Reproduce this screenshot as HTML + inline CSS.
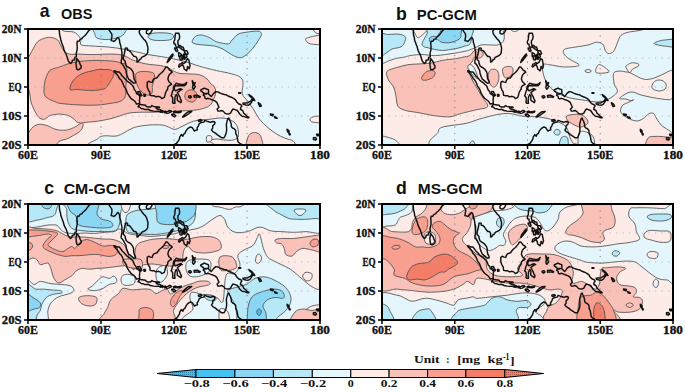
<!DOCTYPE html>
<html><head><meta charset="utf-8"><style>
html,body{margin:0;padding:0;background:#fff;}
svg{display:block;}
.tk{font-family:"Liberation Serif",serif;font-weight:bold;font-size:12.6px;fill:#111;stroke:#111;stroke-width:0.35px;}
.cb{font-family:"Liberation Serif",serif;font-weight:bold;font-size:10.6px;fill:#111;}
.unit{font-family:"Liberation Serif",serif;font-weight:bold;font-size:11.4px;fill:#111;}
.tl{font-family:"Liberation Sans",sans-serif;font-weight:bold;font-size:17.7px;fill:#111;}
.tt{font-family:"Liberation Sans",sans-serif;font-weight:bold;font-size:14.3px;fill:#111;}
</style></head><body>
<svg width="685" height="392" viewBox="0 0 685 392">
<defs>
<pattern id="stip" width="2" height="2" patternUnits="userSpaceOnUse"><rect width="2" height="2" fill="#EC806C"/><rect width="1" height="1" fill="#B8584A"/></pattern>
<pattern id="stipb" width="2" height="2" patternUnits="userSpaceOnUse"><rect width="2" height="2" fill="#3CC0F2"/><rect width="1" height="1" fill="#2A88B0"/></pattern>
</defs>
<rect width="685" height="392" fill="#fff"/>
<g transform="translate(28,29)">
<clipPath id="cpa"><rect x="0" y="0" width="292" height="116"/></clipPath>
<g clip-path="url(#cpa)">
<rect x="0" y="0" width="292" height="116" fill="#FDEBE8"/>
<path d="M32.9,-3.0 C-10.8,-2.5 32.2,-0.9 32.9,0.0 C33.5,0.9 34.6,1.8 36.8,2.3 C39.0,2.8 43.5,2.2 45.9,3.1 C48.3,4.0 50.1,6.3 51.3,7.7 C52.4,9.1 52.5,10.1 52.8,11.5 C53.1,12.9 51.4,15.1 53.3,16.0 C55.2,16.9 59.4,16.6 64.0,17.0 C68.6,17.4 75.7,17.6 81.0,18.1 C86.3,18.6 90.9,19.3 95.9,20.2 C100.9,21.1 106.9,22.5 110.8,23.4 C114.7,24.3 115.8,24.8 119.5,25.5 C123.2,26.2 129.0,26.9 133.3,27.6 C137.6,28.3 141.2,29.0 145.5,29.9 C149.8,30.8 154.5,31.8 158.8,33.0 C163.2,34.2 166.6,35.9 171.6,37.3 C176.6,38.7 183.3,40.4 188.6,41.6 C193.9,42.9 199.6,43.7 203.5,44.8 C207.4,45.9 210.1,46.6 212.0,48.0 C213.9,49.4 214.6,50.3 215.0,53.0 C215.4,55.7 213.6,61.4 214.2,64.4 C214.8,67.4 216.7,68.3 218.5,70.8 C220.3,73.3 222.8,76.1 224.9,79.3 C227.0,82.5 228.8,86.8 231.3,90.0 C233.8,93.2 237.0,96.0 239.8,98.5 C242.6,101.0 245.5,103.1 248.3,104.9 C251.1,106.7 254.0,107.9 256.8,109.1 C259.6,110.3 262.9,110.6 265.4,112.3 C267.9,114.0 266.8,117.9 271.7,119.0 C276.6,120.1 291.1,139.3 295.0,119.0 C298.9,98.7 338.7,17.3 295.0,-3.0 C251.3,-23.3 76.6,-3.5 32.9,-3.0 Z" fill="#E4F6FC" stroke="#4e4e4e" stroke-width="0.85"/>
<path d="M66.4,119.0 C48.5,117.4 68.6,111.4 70.3,109.4 C72.0,107.4 73.4,107.2 76.6,106.8 C79.8,106.4 85.2,107.9 89.4,106.8 C93.6,105.7 98.8,101.9 102.0,100.4 C105.2,98.9 105.2,98.6 108.4,97.9 C111.6,97.2 116.8,96.3 121.1,96.0 C125.3,95.7 130.7,95.7 133.9,96.0 C137.1,96.3 138.2,97.2 140.3,97.9 C142.4,98.6 144.5,100.4 146.6,100.4 C148.7,100.4 150.9,98.9 153.0,97.9 C155.1,97.0 157.3,95.7 159.4,94.7 C161.5,93.7 163.5,92.7 165.8,92.1 C168.1,91.5 170.7,91.2 173.4,90.9 C176.1,90.6 178.9,90.5 182.0,90.2 C185.1,89.9 189.0,89.0 192.0,89.0 C195.0,89.0 197.5,89.2 200.0,90.0 C202.5,90.8 205.3,92.3 207.0,94.0 C208.7,95.7 209.5,97.7 210.0,100.0 C210.5,102.3 210.8,106.2 210.0,108.0 C209.2,109.8 207.3,110.5 205.0,111.0 C202.7,111.5 198.8,111.2 196.0,111.0 C193.2,110.8 190.3,109.8 188.0,110.0 C185.7,110.2 183.7,110.5 182.0,112.0 C180.3,113.5 197.3,117.8 178.0,119.0 C158.7,120.2 84.4,120.6 66.4,119.0 Z" fill="#E4F6FC" stroke="#4e4e4e" stroke-width="0.85"/>
<path d="M178.5,108.0 C178.8,106.9 180.1,106.5 181.0,106.5 C181.9,106.5 183.7,107.1 184.0,108.0 C184.3,108.9 183.8,111.2 183.0,112.0 C182.2,112.8 179.8,113.7 179.0,113.0 C178.2,112.3 178.2,109.1 178.5,108.0 Z" fill="#FDEBE8" stroke="#4e4e4e" stroke-width="0.85"/>
<path d="M-3.0,30.0 C-2.5,25.7 -1.2,30.4 0.0,29.0 C1.2,27.6 2.7,24.0 4.3,21.3 C5.9,18.6 7.5,14.9 9.6,12.8 C11.7,10.8 14.7,9.7 17.0,9.0 C19.3,8.3 21.3,8.2 23.4,8.5 C25.5,8.8 28.2,9.7 29.8,11.1 C31.4,12.5 31.9,15.1 33.0,17.0 C34.1,18.9 34.8,21.0 36.2,22.4 C37.6,23.8 39.1,24.7 41.6,25.1 C44.1,25.6 47.3,25.0 51.0,25.1 C54.7,25.2 58.3,25.6 64.0,25.6 C69.7,25.6 79.7,24.9 85.0,25.1 C90.3,25.3 92.7,25.6 96.0,26.6 C99.3,27.6 101.2,29.6 104.8,31.0 C108.4,32.4 112.2,33.7 117.5,34.8 C122.8,35.9 131.3,35.9 136.6,37.4 C141.9,38.9 145.7,42.6 149.4,43.8 C153.1,45.0 155.1,44.5 158.8,44.8 C162.5,45.1 168.2,44.9 171.6,45.8 C175.0,46.7 177.1,48.5 179.0,50.0 C180.9,51.5 181.8,53.7 183.0,55.0 C184.2,56.3 185.7,56.4 186.5,58.0 C187.3,59.6 187.8,62.3 187.6,64.4 C187.4,66.5 186.3,68.8 185.4,70.8 C184.5,72.8 183.8,74.7 182.2,76.1 C180.6,77.5 178.5,78.4 175.8,79.3 C173.1,80.2 169.6,80.9 165.8,81.3 C162.0,81.7 157.2,81.7 153.0,81.9 C148.8,82.1 144.6,82.4 140.3,82.6 C136.1,82.8 131.8,83.1 127.5,83.2 C123.2,83.3 119.0,83.1 114.8,83.2 C110.6,83.3 105.8,83.4 102.2,83.9 C98.6,84.4 96.4,85.5 93.2,86.4 C90.0,87.4 86.8,88.6 83.0,89.6 C79.2,90.5 74.5,91.5 70.3,92.1 C66.0,92.7 60.5,93.1 57.5,93.4 C54.5,93.7 53.9,94.2 52.4,94.1 C50.9,94.0 49.9,93.6 48.6,92.8 C47.3,92.0 46.3,90.1 44.8,89.0 C43.3,87.9 41.8,87.1 39.7,86.4 C37.6,85.8 34.9,85.1 32.0,85.1 C29.1,85.1 24.7,85.7 22.3,86.4 C19.9,87.2 19.3,89.0 17.9,89.6 C16.5,90.2 15.3,90.5 14.0,90.2 C12.7,89.9 11.5,89.2 10.2,87.7 C8.9,86.2 7.6,83.6 6.4,81.3 C5.2,79.0 4.0,76.2 3.2,73.7 C2.5,71.2 2.4,68.6 1.9,66.0 C1.4,63.4 0.8,59.8 0.0,58.0 C-0.8,56.2 -2.5,59.7 -3.0,55.0 C-3.5,50.3 -3.5,34.3 -3.0,30.0 Z" fill="#F9C1B8" stroke="#4e4e4e" stroke-width="0.85"/>
<path d="M-3.0,104.0 C-2.5,101.5 -1.3,105.3 0.0,104.3 C1.3,103.3 3.2,99.4 5.1,97.9 C7.0,96.4 9.2,95.5 11.5,95.3 C13.8,95.1 16.4,95.8 19.1,96.6 C21.9,97.4 24.8,99.7 28.0,100.4 C31.2,101.2 35.1,101.5 38.3,101.1 C41.5,100.7 44.9,99.0 47.2,97.9 C49.6,96.8 51.1,95.0 52.4,94.5 C53.7,94.0 54.7,93.9 55.0,94.7 C55.3,95.5 54.9,97.8 54.3,99.2 C53.6,100.6 52.7,101.7 51.1,103.0 C49.5,104.3 46.9,105.6 44.8,106.8 C42.7,108.0 40.5,109.2 38.4,110.0 C36.3,110.8 33.7,110.9 32.0,111.9 C30.3,112.9 28.7,114.8 28.0,116.0 C27.3,117.2 33.2,118.5 28.0,119.0 C22.8,119.5 2.2,121.5 -3.0,119.0 C-8.2,116.5 -3.5,106.5 -3.0,104.0 Z" fill="#F9C1B8" stroke="#4e4e4e" stroke-width="0.85"/>
<path d="M16.0,60.0 C16.1,57.7 16.3,54.7 17.0,52.0 C17.7,49.3 19.0,45.9 20.0,44.0 C21.0,42.1 21.2,41.6 23.0,40.6 C24.8,39.6 27.6,39.3 30.6,38.3 C33.6,37.3 37.5,35.5 41.3,34.5 C45.1,33.5 49.0,32.7 53.6,32.2 C58.2,31.7 63.5,31.4 68.9,31.4 C74.3,31.4 81.5,31.7 85.8,32.2 C90.1,32.7 93.0,34.1 94.9,34.5 C96.8,34.9 96.4,33.7 97.1,34.8 C97.8,35.9 98.8,38.7 99.0,41.2 C99.2,43.8 98.6,46.9 98.4,50.1 C98.2,53.3 97.9,57.3 97.7,60.3 C97.5,63.3 98.0,66.0 97.1,68.0 C96.1,70.0 94.3,71.4 92.0,72.4 C89.7,73.5 86.6,73.7 83.0,74.3 C79.4,74.9 74.5,75.7 70.3,76.0 C66.0,76.3 61.8,76.3 57.5,76.2 C53.2,76.1 49.0,75.9 44.8,75.6 C40.5,75.3 34.8,74.7 32.0,74.3 C29.2,73.9 29.9,73.8 28.0,73.0 C26.1,72.2 22.3,71.0 20.4,69.8 C18.5,68.6 17.3,67.6 16.6,66.0 C15.9,64.4 15.9,62.3 16.0,60.0 Z" fill="#F89F8F" stroke="#4e4e4e" stroke-width="0.85"/>
<path d="M107.9,45.0 C108.6,43.5 110.4,43.1 112.4,42.7 C114.4,42.3 117.8,42.4 120.0,42.7 C122.2,43.0 124.7,43.2 125.8,44.4 C126.9,45.6 126.6,48.1 126.4,50.1 C126.2,52.1 124.9,54.1 124.5,56.5 C124.1,58.9 124.8,62.6 123.9,64.2 C123.1,65.8 121.1,66.3 119.4,66.1 C117.7,65.9 115.3,64.3 113.7,62.9 C112.1,61.5 110.9,59.7 109.9,57.8 C109.0,55.9 108.3,53.5 108.0,51.4 C107.7,49.3 107.2,46.5 107.9,45.0 Z" fill="#F89F8F" stroke="#4e4e4e" stroke-width="0.85"/>
<path d="M157.0,65.4 C157.4,64.1 158.3,62.3 159.6,61.6 C160.9,60.9 163.2,60.6 164.7,61.0 C166.2,61.4 167.9,62.8 168.5,64.2 C169.1,65.6 169.1,67.8 168.5,69.3 C167.9,70.8 166.2,72.7 164.7,73.1 C163.2,73.5 160.8,72.4 159.6,71.8 C158.4,71.2 157.7,70.4 157.3,69.3 C156.9,68.2 156.6,66.7 157.0,65.4 Z" fill="#F89F8F" stroke="#4e4e4e" stroke-width="0.85"/>
<path d="M42.0,60.5 C41.2,59.2 43.1,55.0 44.4,52.8 C45.7,50.5 48.0,48.5 50.0,47.0 C52.0,45.5 54.4,44.4 56.7,43.6 C59.0,42.8 62.0,42.5 64.0,42.0 C66.0,41.5 67.1,40.9 68.9,40.6 C70.7,40.4 72.7,40.4 75.0,40.5 C77.3,40.6 80.9,40.4 82.7,41.0 C84.5,41.6 85.4,43.2 85.8,44.4 C86.2,45.6 85.4,47.0 85.0,48.0 C84.6,49.0 84.3,49.2 83.5,50.5 C82.7,51.8 81.2,54.4 80.0,56.0 C78.8,57.6 78.7,59.1 76.0,60.0 C73.3,60.9 68.5,61.4 64.0,61.5 C59.5,61.6 52.7,60.7 49.0,60.5 C45.3,60.3 42.8,61.8 42.0,60.5 Z" fill="#F37D67" stroke="#4e4e4e" stroke-width="0.85"/>
<path d="M67.0,-3.0 C61.8,-1.6 66.7,3.4 67.0,5.4 C67.3,7.4 67.6,8.1 68.8,8.9 C70.0,9.7 72.2,10.0 74.1,10.3 C76.0,10.6 78.6,10.6 80.4,10.5 C82.2,10.4 83.3,10.1 84.9,9.8 C86.5,9.5 88.6,9.1 90.2,8.5 C91.8,7.9 93.5,7.3 94.7,6.3 C95.9,5.3 96.8,4.2 97.4,2.7 C98.0,1.2 103.4,-2.0 98.3,-3.0 C93.2,-4.0 72.2,-4.4 67.0,-3.0 Z" fill="#B6E8F8" stroke="#4e4e4e" stroke-width="0.85"/>
<path d="M120.0,8.0 C119.8,6.9 121.8,5.2 124.0,4.5 C126.2,3.8 130.0,3.8 133.0,3.8 C136.0,3.8 139.9,4.0 142.0,4.5 C144.1,5.0 145.3,6.0 145.5,7.0 C145.7,8.0 144.8,9.8 143.0,10.5 C141.2,11.2 138.0,11.4 135.0,11.5 C132.0,11.6 127.5,11.6 125.0,11.0 C122.5,10.4 120.2,9.1 120.0,8.0 Z" fill="#B6E8F8" stroke="#4e4e4e" stroke-width="0.85"/>
<path d="M164.1,12.8 C164.1,11.6 165.7,8.6 167.3,7.5 C168.9,6.4 171.4,5.8 173.7,6.0 C176.0,6.2 178.7,7.4 181.2,8.5 C183.7,9.6 185.4,11.7 188.6,12.8 C191.8,13.9 197.8,15.1 200.3,14.9 C202.8,14.7 201.9,13.3 203.5,11.7 C205.1,10.1 207.5,6.7 210.0,5.3 C212.5,3.9 215.1,3.7 218.5,3.2 C221.9,2.7 227.7,1.8 230.2,2.1 C232.7,2.5 233.4,3.7 233.4,5.3 C233.4,6.9 231.6,9.4 230.2,11.7 C228.8,14.0 226.8,16.9 224.9,19.2 C223.0,21.5 220.7,24.0 218.5,25.6 C216.3,27.2 214.5,28.8 212.0,28.8 C209.5,28.8 206.3,27.0 203.5,25.6 C200.7,24.2 197.8,21.6 195.0,20.2 C192.2,18.8 189.7,17.7 186.5,17.0 C183.3,16.3 179.0,16.4 175.8,16.0 C172.6,15.7 169.2,15.4 167.3,14.9 C165.4,14.4 164.1,14.0 164.1,12.8 Z" fill="#B6E8F8" stroke="#4e4e4e" stroke-width="0.85"/>
<path d="M285.5,-3.0 C284.0,-2.2 285.4,0.8 286.0,2.0 C286.6,3.2 287.5,3.9 289.0,4.3 C290.5,4.7 294.0,5.5 295.0,4.3 C296.0,3.1 296.6,-1.8 295.0,-3.0 C293.4,-4.2 287.0,-3.8 285.5,-3.0 Z" fill="#FDEBE8" stroke="#4e4e4e" stroke-width="0.85"/>
<path d="M278.1,9.6 C279.2,8.9 281.7,8.0 284.5,7.5 C287.3,7.0 293.2,5.2 295.0,6.4 C296.8,7.6 297.1,13.5 295.0,14.9 C292.9,16.3 285.2,15.4 282.4,14.9 C279.6,14.4 278.8,12.6 278.1,11.7 C277.4,10.8 277.0,10.3 278.1,9.6 Z" fill="#FDEBE8" stroke="#4e4e4e" stroke-width="0.85"/>
<path d="M219.0,119.0 C216.7,117.2 219.2,110.5 220.0,108.0 C220.8,105.5 222.5,104.7 224.0,104.0 C225.5,103.3 227.5,103.3 229.0,104.0 C230.5,104.7 232.2,105.5 233.0,108.0 C233.8,110.5 236.3,117.2 234.0,119.0 C231.7,120.8 221.3,120.8 219.0,119.0 Z" fill="#F9C1B8" stroke="#4e4e4e" stroke-width="0.85"/>
<path d="M282.0,90.5 C282.0,89.6 282.8,88.3 285.0,87.8 C287.2,87.3 293.3,86.6 295.0,87.5 C296.7,88.4 296.7,92.2 295.0,93.2 C293.3,94.2 287.2,93.7 285.0,93.2 C282.8,92.8 282.0,91.4 282.0,90.5 Z" fill="#FDEBE8" stroke="#4e4e4e" stroke-width="0.85"/>
<path d="M73.0,0V116 M146.0,0V116 M219.0,0V116" stroke="#7a7a7a" stroke-width="1" stroke-dasharray="1.2 5.3" fill="none"/>
<path d="M0,29.0H292 M0,58.0H292 M0,87.0H292" stroke="#b0b0b0" stroke-width="0.9" stroke-dasharray="1.2 5.3" fill="none"/>
<g fill="none" stroke="#111" stroke-width="1.45" stroke-linejoin="round">
<polyline points="31.1,0.0 31.4,2.9 31.6,5.8 32.4,8.7 32.9,11.6 33.6,13.6 34.3,15.4 35.3,18.0 36.0,20.9 37.0,23.2 38.0,24.9 38.7,26.7 39.4,29.0 40.1,31.3 41.1,33.1 42.6,34.5 44.0,33.1 44.3,31.3 46.2,31.0 47.0,28.1 48.4,28.1 48.2,24.6 49.2,20.3 49.2,17.4 48.9,14.5 49.4,12.2 51.1,12.2 52.1,10.4 54.3,9.6 54.3,8.7 56.5,7.0 58.4,4.9 60.3,2.3 62.0,0.6 64.0,0.0 64.5,-0.9"/>
<polyline points="79.8,-0.9 81.3,1.4 82.5,3.2 83.7,4.9 84.0,7.2 83.5,9.9 83.2,11.6 84.7,11.9 85.9,12.5 87.1,11.6 88.3,10.2 89.8,8.4 90.8,9.3 91.5,11.0 91.7,13.6 92.7,16.5 93.2,19.7 93.9,22.6 93.9,26.1 93.9,29.0 93.2,31.9 93.2,34.2 94.2,34.8 95.6,36.8 96.6,38.9 98.1,41.5 98.3,44.1 99.0,46.4 100.0,48.7 100.7,50.2 102.7,51.6 104.6,53.4 105.8,54.2 107.6,53.9 107.3,52.2 106.1,49.9 105.6,47.0 105.6,45.0 104.9,42.6 103.2,40.3 101.5,38.9 99.8,38.0 98.3,36.8 97.6,34.8 97.1,32.2 95.4,30.2 95.4,28.1 96.1,25.8 96.6,23.5 97.1,21.2 97.3,19.1 98.5,18.9 99.5,19.4 99.5,21.2 101.2,21.5 102.4,22.6 103.7,24.4 104.6,25.8 105.8,27.3 108.0,27.8 109.0,29.3 109.0,33.1 110.0,32.8 111.2,31.0 112.7,30.2 113.6,28.4 114.6,27.8 116.6,27.0 117.5,26.4 119.0,24.9 119.7,23.5 119.7,21.8 120.0,19.4 119.7,17.7 119.0,15.1 118.3,13.3 117.3,11.6 115.8,10.2 114.6,8.7 113.4,7.2 112.4,5.8 111.4,4.1 111.2,2.6 111.7,1.2 112.9,0.0 113.4,-0.9"/>
<polyline points="120.7,-0.9 121.4,-0.7 122.4,-0.9"/>
<polyline points="143.1,116.9 145.8,115.7 148.4,114.5 150.1,112.2 151.4,110.2 151.8,107.9 153.3,105.6 154.8,107.3 155.5,105.3 156.9,104.4 157.7,102.4 159.1,100.3 160.8,98.9 162.5,98.0 164.2,98.6 165.7,100.9 166.4,102.1 167.9,101.2 169.4,100.9 169.1,98.9 170.6,96.6 171.1,94.8 172.3,94.0 174.0,93.4 175.9,93.1 176.7,91.3 178.8,92.2 180.8,92.8 182.5,93.4 184.7,92.5 186.4,92.8 187.1,93.7 186.2,95.7 184.7,96.6 184.7,99.2 183.5,100.9 184.9,102.7 187.4,104.1 189.1,105.6 191.7,107.3 193.7,108.8 195.9,108.8 196.9,107.3 198.1,104.4 198.6,101.5 198.6,98.6 198.3,95.7 198.8,93.4 199.3,91.6 200.0,89.6 200.8,89.0 201.5,90.8 202.5,92.8 203.2,95.1 203.4,97.7 204.9,99.2 205.9,99.5 207.6,101.2 207.8,104.4 209.0,107.0 209.5,109.9 210.0,112.8 211.7,114.3 213.6,115.4 215.3,116.9"/>
<polyline points="252.8,116.9 253.3,116.3 254.3,116.9"/>
<polygon points="48.4,29.6 49.4,30.2 50.9,32.2 51.6,33.4 52.1,35.4 53.3,37.1 53.0,38.9 51.8,40.0 50.1,40.9 48.9,40.3 48.4,38.3 48.2,36.0 47.9,34.2 48.4,32.2"/>
<polygon points="118.3,2.6 118.5,4.3 120.5,5.2 121.7,4.6 122.9,3.5 124.1,1.2 123.4,-0.3 121.7,-0.3 120.5,0.3 119.0,1.2"/>
<polygon points="85.9,41.8 87.4,42.0 88.8,42.9 91.2,42.9 93.2,45.5 94.2,47.0 96.1,48.7 97.6,50.5 98.8,51.9 100.5,53.1 102.2,54.2 103.7,55.7 104.9,56.8 105.8,58.9 106.6,60.9 108.0,62.6 108.5,64.7 109.7,65.0 111.2,66.4 111.9,67.6 111.7,69.6 111.4,71.3 111.7,74.8 110.0,74.8 108.5,75.1 107.1,72.5 105.6,71.3 102.9,69.3 101.0,66.7 99.5,64.4 98.3,60.9 97.3,59.2 95.9,57.1 94.9,54.5 94.2,52.8 93.0,50.8 91.5,49.6 90.5,47.6 89.1,45.8 87.6,44.1 86.4,42.9"/>
<polygon points="109.7,62.6 111.7,62.4 112.7,64.4 113.9,66.4 112.7,67.0 111.4,65.5 110.0,64.1"/>
<polygon points="115.8,65.5 117.3,65.5 117.5,67.0 116.1,67.3"/>
<polygon points="110.0,77.7 111.7,75.4 113.9,75.7 115.8,76.0 117.5,76.3 118.3,77.4 120.2,78.0 122.6,78.0 123.9,76.6 125.3,77.4 128.0,78.0 128.5,79.5 130.2,80.3 132.4,80.6 132.9,81.8 132.6,83.2 130.4,82.1 128.2,82.4 125.6,82.1 122.4,81.5 120.2,80.3 117.3,80.6 115.3,79.8 113.2,79.5 111.4,78.0"/>
<polygon points="128.2,78.0 131.2,78.0 131.6,78.6 128.5,78.9"/>
<polygon points="132.6,81.5 134.3,81.5 135.5,82.4 134.3,83.5 132.9,82.4"/>
<polygon points="136.3,82.4 137.5,82.1 138.0,83.5 136.5,83.8"/>
<polygon points="138.2,82.9 139.9,82.4 141.1,81.5 142.8,81.8 143.6,82.7 142.6,83.2 140.6,84.1 138.7,84.4"/>
<polygon points="145.5,82.7 147.2,82.1 149.4,82.9 151.8,82.4 153.3,82.1 152.8,83.2 150.4,83.8 147.7,83.5 145.8,83.5"/>
<polygon points="143.6,85.3 145.8,85.0 147.9,86.7 146.5,87.9 144.1,86.4"/>
<polygon points="154.5,87.9 156.7,85.5 158.4,84.1 160.6,82.7 163.8,82.4 162.5,83.5 160.4,85.0 157.9,86.7 155.7,87.9"/>
<polygon points="119.2,53.4 120.7,52.2 122.4,53.1 124.1,53.4 124.8,51.3 126.3,49.6 129.0,48.7 131.2,45.8 132.4,44.7 133.8,43.5 134.8,42.6 136.3,40.6 138.0,38.0 139.2,38.0 140.4,39.4 141.4,40.9 143.3,42.0 144.3,43.2 142.6,44.4 141.4,45.5 140.4,47.6 139.9,49.9 140.9,52.8 143.3,54.8 143.6,55.4 141.4,56.5 139.9,58.0 139.7,60.0 138.5,61.8 137.5,63.8 137.0,66.1 136.3,68.4 133.8,69.6 132.6,68.2 130.4,67.3 128.0,67.9 125.8,66.7 124.1,66.7 122.2,66.4 121.7,63.2 120.2,60.6 119.2,58.0 119.2,55.4"/>
<polygon points="158.7,53.4 157.2,54.8 155.7,55.4 154.0,55.4 152.1,55.1 149.7,54.8 148.2,54.2 147.2,55.7 146.2,56.5 145.5,58.0 145.3,59.7 145.5,60.6 144.5,62.4 143.6,65.8 143.1,66.7 144.5,68.2 144.8,71.0 144.5,73.1 145.0,74.2 147.0,74.2 146.7,71.6 147.0,68.2 148.2,65.5 149.4,67.3 149.2,71.0 150.6,72.2 152.8,73.7 153.5,71.9 152.3,69.6 151.6,67.6 150.6,65.8 149.4,63.5 150.9,62.4 152.8,60.9 154.3,60.6 152.3,59.7 149.9,60.6 148.4,61.5 147.5,61.8 146.5,60.6 146.2,59.2 147.0,56.8 148.4,56.8 150.9,56.5 153.3,56.8 155.7,56.8 156.9,56.5 158.2,55.1"/>
<polygon points="164.2,51.6 165.5,53.6 165.2,55.1 167.2,53.6 166.0,56.5 167.4,57.4 166.2,59.5 165.5,60.3 164.5,58.9 165.0,55.7"/>
<polygon points="166.0,66.4 169.1,66.1 172.3,67.6 171.6,68.4 168.6,67.9 166.2,68.2"/>
<polygon points="160.6,67.3 162.5,66.7 163.5,68.2 162.1,69.0 160.8,68.4"/>
<polygon points="172.8,60.9 174.7,60.0 176.4,59.2 178.4,60.0 180.3,60.6 180.6,62.4 180.3,64.7 181.5,65.8 183.2,67.6 184.2,66.4 185.7,64.4 187.9,62.6 189.8,62.9 192.2,64.1 194.7,65.0 196.4,65.5 198.3,65.8 200.8,67.3 203.2,68.2 205.6,69.3 207.6,70.8 208.8,73.1 210.5,74.8 212.9,75.7 213.9,77.1 212.9,78.3 212.4,80.3 214.6,81.5 215.6,84.1 217.3,85.5 218.8,87.0 220.5,88.2 220.9,88.7 219.0,88.7 216.6,87.6 214.1,87.3 211.9,85.3 210.7,83.5 209.3,81.5 207.1,80.6 205.1,80.0 203.7,81.8 202.5,84.1 201.0,85.0 198.3,84.7 197.1,84.4 195.4,82.4 193.4,81.5 191.5,82.1 190.0,82.1 189.1,80.0 191.0,78.3 190.0,76.0 188.8,73.4 186.9,71.9 184.0,70.8 181.8,69.9 179.6,69.3 178.4,69.9 177.1,69.3 176.7,67.3 175.2,66.1 175.9,64.7 178.1,65.0 179.3,64.4 175.7,64.1 174.0,62.6 172.8,61.8"/>
<polygon points="214.9,74.2 216.6,74.0 219.5,74.0 221.2,72.8 222.7,72.2 223.9,70.5 224.8,71.0 223.4,73.4 222.2,75.1 220.0,76.3 217.8,76.0 215.3,75.4"/>
<polygon points="220.9,65.5 223.9,67.6 226.1,70.2 226.8,71.6 225.8,71.3 223.9,69.0 221.4,66.7"/>
<polygon points="210.7,63.7 212.7,63.7 212.7,64.2 210.7,64.2"/>
<polygon points="230.2,73.7 232.4,75.1 233.4,77.1 231.9,77.7 230.7,75.4"/>
<polygon points="242.4,85.0 245.3,85.5 244.8,86.7 242.6,86.1"/>
<polygon points="246.3,87.6 248.4,88.5 249.2,89.3 247.2,89.0"/>
<polygon points="259.1,100.3 260.9,101.5 261.1,103.2 259.9,103.2 259.4,102.1"/>
<polygon points="260.9,104.1 262.3,105.0 261.8,106.1 261.1,105.3"/>
<polygon points="285.4,108.8 287.6,108.5 288.6,110.2 287.4,111.1 285.4,110.5"/>
<polygon points="288.6,105.3 290.8,105.3 292.5,105.0 292.5,106.7 290.3,106.7 289.1,106.7"/>
<polygon points="147.5,4.3 148.9,4.1 150.9,4.3 151.6,7.2 151.4,9.9 149.9,11.9 149.9,14.5 150.6,16.8 152.3,16.5 153.5,18.0 155.0,18.0 156.0,20.3 155.7,21.5 154.0,20.3 152.3,19.1 150.4,17.7 148.7,18.6 147.5,16.5 147.5,15.1 146.0,14.8 145.8,12.5 146.7,11.0 147.0,7.8"/>
<polygon points="146.7,18.9 148.7,19.1 149.7,21.5 148.9,22.6 147.7,21.8"/>
<polygon points="150.6,23.5 152.1,24.4 153.5,25.5 152.3,27.0 150.9,27.6 150.6,26.1"/>
<polygon points="153.1,26.4 154.5,26.7 153.8,31.0 152.1,30.7 151.8,28.4"/>
<polygon points="155.5,25.2 156.0,27.3 154.3,30.2 154.0,28.4"/>
<polygon points="155.2,28.7 157.2,28.7 156.7,30.2 155.2,29.9"/>
<polygon points="156.5,21.8 158.9,21.8 160.1,24.6 158.7,25.8 157.9,24.9 156.5,23.2"/>
<polygon points="156.5,24.6 158.2,25.2 158.9,27.8 157.7,29.0 156.5,27.0"/>
<polygon points="150.6,37.7 151.4,35.1 152.8,34.8 154.5,33.4 155.2,34.5 156.2,34.2 157.4,33.4 158.2,31.9 159.4,29.6 160.8,30.7 161.3,33.4 162.1,36.8 161.1,39.7 159.6,37.4 159.1,40.0 158.7,41.8 156.2,40.0 155.7,37.7 154.5,35.7 153.1,36.5 151.4,38.0"/>
<polygon points="139.2,33.6 141.1,31.6 142.8,29.3 144.5,27.3 145.0,24.9 144.1,25.5 142.3,27.8 140.2,30.7"/>
<polygon points="170.3,91.1 172.8,90.5 174.0,91.3 172.3,92.5 170.6,92.2"/>
</g></g>
<rect x="0" y="0" width="292" height="116" fill="none" stroke="#000" stroke-width="2"/>
<path d="M0.0,116v4 M0,0.0h-4 M73.0,116v4 M0,29.0h-4 M146.0,116v4 M0,58.0h-4 M219.0,116v4 M0,87.0h-4 M292.0,116v4 M0,116.0h-4" stroke="#000" stroke-width="1.5"/>
<text x="-26.2" y="4.1" class="tk" textLength="19.8" lengthAdjust="spacingAndGlyphs">20N</text>
<text x="-26.2" y="33.1" class="tk" textLength="19.8" lengthAdjust="spacingAndGlyphs">10N</text>
<text x="-19.6" y="62.1" class="tk" textLength="13.2" lengthAdjust="spacingAndGlyphs">EQ</text>
<text x="-26.2" y="91.1" class="tk" textLength="19.8" lengthAdjust="spacingAndGlyphs">10S</text>
<text x="-26.2" y="120.1" class="tk" textLength="19.8" lengthAdjust="spacingAndGlyphs">20S</text>
<text x="-9.9" y="129.9" class="tk" textLength="19.8" lengthAdjust="spacingAndGlyphs">60E</text>
<text x="63.1" y="129.9" class="tk" textLength="19.8" lengthAdjust="spacingAndGlyphs">90E</text>
<text x="132.8" y="129.9" class="tk" textLength="26.4" lengthAdjust="spacingAndGlyphs">120E</text>
<text x="205.8" y="129.9" class="tk" textLength="26.4" lengthAdjust="spacingAndGlyphs">150E</text>
<text x="282.1" y="129.9" class="tk" textLength="19.8" lengthAdjust="spacingAndGlyphs">180</text>
</g>
<g transform="translate(382,29)">
<clipPath id="cpb"><rect x="0" y="0" width="291" height="116"/></clipPath>
<g clip-path="url(#cpb)">
<rect x="0" y="0" width="291" height="116" fill="#FDEBE8"/>
<path d="M-3.0,-3.0 C17.9,-9.3 101.6,-3.8 122.3,-3.0 C143.0,-2.2 121.3,0.5 121.3,2.0 C121.3,3.5 122.3,4.4 122.3,6.1 C122.3,7.8 122.3,10.7 121.3,12.3 C120.3,13.9 118.1,15.2 116.2,15.8 C114.3,16.4 112.4,16.0 109.6,16.0 C106.9,16.0 102.1,15.5 99.7,15.8 C97.2,16.1 96.7,17.1 94.7,18.0 C92.7,18.9 89.5,20.2 87.7,20.9 C85.9,21.6 86.4,21.5 84.1,22.0 C81.8,22.5 77.3,23.4 73.9,24.0 C70.6,24.6 67.2,25.1 63.8,25.5 C60.4,25.9 56.5,26.5 53.6,26.6 C50.7,26.7 49.0,26.3 46.4,26.1 C43.9,25.9 41.3,25.4 38.3,25.5 C35.2,25.6 30.7,26.2 28.1,26.6 C25.5,27.0 25.1,27.6 22.9,28.0 C20.8,28.4 17.8,28.6 15.2,29.2 C12.7,29.8 10.2,30.6 7.7,31.5 C5.1,32.5 1.8,34.3 0.0,34.9 C-1.8,35.5 -2.5,41.3 -3.0,35.0 C-3.5,28.7 -23.9,3.3 -3.0,-3.0 Z" fill="#E4F6FC" stroke="#4e4e4e" stroke-width="0.85"/>
<path d="M128.5,-3.0 C127.1,-2.3 128.4,0.1 129.1,1.0 C129.7,1.9 131.3,2.5 132.5,2.5 C133.8,2.5 135.8,1.9 136.5,1.0 C137.3,0.1 138.4,-2.3 137.0,-3.0 C135.7,-3.7 129.8,-3.7 128.5,-3.0 Z" fill="#E4F6FC" stroke="#4e4e4e" stroke-width="0.85"/>
<path d="M31.2,-3.0 C28.7,-2.5 30.9,-1.3 31.2,0.0 C31.5,1.3 32.4,3.6 33.2,5.1 C33.9,6.5 34.9,8.3 35.8,8.7 C36.6,9.1 37.2,8.5 38.3,7.7 C39.4,6.9 41.2,5.2 42.4,4.1 C43.6,3.0 44.8,2.2 45.4,1.0 C46.0,-0.2 48.3,-2.3 45.9,-3.0 C43.6,-3.7 33.7,-3.5 31.2,-3.0 Z" fill="#FDEBE8" stroke="#4e4e4e" stroke-width="0.85"/>
<path d="M-3.0,5.8 C-1.5,2.2 3.1,5.6 5.8,5.5 C8.5,5.4 10.9,5.1 13.1,5.1 C15.2,5.1 17.2,5.0 18.9,5.5 C20.7,6.0 22.9,6.9 23.5,8.2 C24.1,9.5 23.1,11.8 22.5,13.3 C21.9,14.8 21.2,16.4 19.9,17.4 C18.7,18.3 16.6,18.6 14.9,19.0 C13.3,19.4 11.6,19.2 10.0,20.0 C8.3,20.8 6.6,22.4 5.0,23.5 C3.3,24.6 1.3,26.3 0.0,26.9 C-1.3,27.5 -2.5,30.5 -3.0,27.0 C-3.5,23.5 -4.5,9.4 -3.0,5.8 Z" fill="#B6E8F8" stroke="#4e4e4e" stroke-width="0.85"/>
<path d="M47.3,-3.0 C40.3,-1.8 46.5,1.4 45.3,4.2 C44.2,7.0 41.0,11.4 40.4,13.6 C39.7,15.8 40.3,16.5 41.4,17.4 C42.4,18.3 44.6,18.4 46.4,18.9 C48.3,19.4 50.1,20.0 52.5,20.4 C54.9,20.8 58.0,21.5 60.7,21.5 C63.4,21.5 66.1,20.8 68.9,20.4 C71.6,20.0 74.7,19.5 77.0,18.9 C79.4,18.3 81.3,17.5 83.1,16.9 C84.9,16.3 86.6,16.8 87.7,15.3 C88.8,13.8 89.7,11.1 89.7,8.0 C89.7,5.0 94.8,-1.2 87.7,-3.0 C80.6,-4.8 54.4,-4.2 47.3,-3.0 Z" fill="#B6E8F8" stroke="#4e4e4e" stroke-width="0.85"/>
<path d="M47.4,10.2 C47.5,9.4 47.9,8.7 48.5,8.2 C49.2,7.7 50.5,7.3 51.5,7.2 C52.5,7.1 53.8,8.1 54.6,7.7 C55.5,7.3 55.9,6.0 56.6,5.1 C57.3,4.1 58.0,3.3 58.7,2.0 C59.4,0.7 57.5,-2.2 60.7,-3.0 C63.9,-3.8 75.0,-4.3 78.0,-3.0 C81.1,-1.7 79.0,3.1 79.0,5.1 C79.0,7.1 79.0,8.0 78.0,9.2 C77.0,10.4 74.8,11.5 72.9,12.3 C71.1,13.1 69.0,13.6 66.8,13.8 C64.6,14.0 61.4,13.7 59.7,13.3 C58.0,12.9 57.6,11.7 56.6,11.2 C55.6,10.7 54.6,10.0 53.6,10.2 C52.6,10.4 51.5,11.9 50.5,12.3 C49.6,12.7 48.5,13.2 47.9,12.8 C47.4,12.5 47.3,11.0 47.4,10.2 Z" fill="#8AD7F5" stroke="#4e4e4e" stroke-width="0.85"/>
<path d="M4.6,43.0 C5.0,42.0 5.9,41.5 7.7,40.7 C9.5,39.9 12.3,39.2 15.2,38.4 C18.2,37.6 21.8,36.4 25.2,35.8 C28.7,35.2 31.9,35.3 35.9,35.0 C39.8,34.7 44.8,34.7 48.8,34.1 C52.8,33.5 56.8,32.1 59.8,31.5 C62.8,30.9 64.2,30.8 66.8,30.5 C69.3,30.2 72.6,29.9 74.9,29.5 C77.3,29.1 79.0,28.6 81.1,28.1 C83.2,27.6 85.9,27.6 87.7,26.6 C89.5,25.6 90.4,23.0 91.7,22.0 C93.0,21.0 94.3,20.5 95.7,20.5 C97.0,20.5 98.7,21.1 99.7,22.0 C100.6,22.9 101.5,24.8 101.2,26.0 C100.8,27.2 99.2,28.6 97.7,29.0 C96.1,29.4 93.1,28.0 92.0,28.5 C90.8,29.0 91.4,30.8 90.7,32.0 C89.9,33.2 88.2,34.8 87.5,35.8 C86.8,36.8 86.6,36.6 86.6,38.0 C86.6,39.4 86.9,41.7 87.5,43.9 C88.1,46.1 88.8,48.3 90.2,51.0 C91.5,53.7 93.8,56.9 95.6,59.9 C97.3,62.9 99.2,66.4 100.9,68.9 C102.5,71.4 104.7,73.5 105.3,75.1 C105.9,76.7 106.1,77.8 104.4,78.7 C102.8,79.6 98.8,79.8 95.6,80.5 C92.3,81.2 87.8,82.4 84.8,83.1 C81.8,83.8 80.5,84.1 77.7,84.9 C74.9,85.7 72.1,87.5 68.0,87.8 C63.9,88.1 58.4,87.5 53.1,86.8 C47.8,86.1 41.0,84.5 36.1,83.6 C31.1,82.7 26.7,82.5 23.3,81.4 C20.0,80.3 17.5,79.7 15.9,77.2 C14.4,74.7 14.6,69.7 13.9,66.5 C13.1,63.3 12.8,60.4 11.7,58.0 C10.5,55.6 8.1,53.8 7.0,52.0 C5.9,50.2 5.4,48.5 5.0,47.0 C4.6,45.5 4.1,44.0 4.6,43.0 Z" fill="#F9C1B8" stroke="#4e4e4e" stroke-width="0.85"/>
<path d="M106.6,44.0 C107.1,42.4 108.3,41.0 109.6,40.5 C111.0,40.0 113.4,40.1 114.6,41.0 C115.8,41.9 116.6,44.0 116.9,46.0 C117.1,48.0 116.8,51.0 116.1,53.0 C115.4,55.0 113.9,57.5 112.6,58.0 C111.4,58.5 109.6,57.3 108.6,56.0 C107.6,54.7 107.0,52.0 106.6,50.0 C106.3,48.0 106.1,45.6 106.6,44.0 Z" fill="#F9C1B8" stroke="#4e4e4e" stroke-width="0.85"/>
<path d="M120.6,40.0 C121.2,38.8 123.1,37.9 124.6,37.6 C126.1,37.3 128.5,37.3 129.6,38.0 C130.7,38.7 131.3,40.5 131.1,42.0 C131.0,43.5 129.8,45.8 128.6,47.0 C127.3,48.2 124.8,49.3 123.6,49.0 C122.3,48.7 121.6,46.5 121.1,45.0 C120.6,43.5 120.0,41.2 120.6,40.0 Z" fill="#F9C1B8" stroke="#4e4e4e" stroke-width="0.85"/>
<path d="M85.7,37.0 C86.0,36.0 88.4,35.2 89.7,36.0 C91.0,36.8 92.7,39.8 93.7,42.0 C94.7,44.2 95.8,48.0 95.7,49.0 C95.5,50.0 94.0,49.2 92.7,48.0 C91.4,46.8 88.9,43.8 87.7,42.0 C86.5,40.2 85.4,38.0 85.7,37.0 Z" fill="#E4F6FC" stroke="#4e4e4e" stroke-width="0.85"/>
<path d="M40.4,47.0 C41.2,45.7 43.1,43.4 44.8,42.5 C46.6,41.6 49.4,41.4 50.8,41.6 C52.2,41.9 53.1,42.9 53.1,44.0 C53.1,45.1 52.4,47.3 50.8,48.5 C49.3,49.7 45.7,50.9 43.8,51.2 C42.0,51.5 40.4,51.2 39.9,50.5 C39.3,49.8 39.5,48.3 40.4,47.0 Z" fill="#F89F8F" stroke="#4e4e4e" stroke-width="0.85"/>
<path d="M167.8,58.0 C165.5,55.4 163.8,52.6 162.5,49.0 C161.3,45.4 159.6,38.4 160.4,36.2 C161.3,34.0 164.5,35.5 167.8,35.8 C171.2,36.1 176.1,37.6 180.6,37.9 C185.0,38.1 191.8,37.8 194.4,37.3 C197.1,36.8 197.8,36.5 196.5,35.2 C195.3,34.0 189.4,31.6 187.0,29.8 C184.5,28.0 182.4,26.1 181.7,24.5 C181.0,22.9 180.8,21.3 182.8,20.2 C184.7,19.1 189.4,18.8 193.3,18.1 C197.2,17.4 202.6,16.8 206.1,16.0 C209.6,15.2 212.1,13.3 214.6,13.2 C217.0,13.1 219.5,14.0 220.9,15.3 C222.4,16.7 222.3,19.8 223.1,21.3 C224.0,22.8 224.8,24.3 226.2,24.5 C227.6,24.7 230.0,24.3 231.6,22.4 C233.2,20.4 234.6,15.5 235.8,12.8 C237.0,10.1 237.2,8.0 239.0,6.4 C240.8,4.8 243.1,4.1 246.5,3.2 C249.8,2.3 255.4,2.1 259.2,1.1 C263.0,0.1 263.3,-2.3 269.1,-3.0 C274.9,-3.7 289.8,-10.3 294.0,-3.0 C298.1,4.3 294.7,33.6 294.0,41.0 C293.3,48.4 291.0,41.0 289.6,41.3 C288.2,41.6 287.4,42.0 285.7,42.8 C284.1,43.6 281.9,44.9 279.6,45.9 C277.4,46.9 274.6,48.2 272.1,49.0 C269.5,49.8 266.7,50.5 264.4,50.5 C262.1,50.5 260.3,49.8 258.3,49.0 C256.3,48.2 254.0,46.8 252.2,45.9 C250.5,45.0 249.2,44.1 247.6,43.6 C246.1,43.1 244.8,43.0 243.1,42.8 C241.3,42.5 238.9,41.8 237.0,42.1 C235.1,42.4 232.4,42.2 231.6,44.4 C230.8,46.5 231.6,51.9 232.2,55.0 C232.8,58.1 236.4,60.4 235.2,63.0 C234.0,65.6 228.7,69.1 225.2,70.8 C221.8,72.5 218.8,72.9 214.6,72.9 C210.3,72.9 204.3,71.5 199.7,70.8 C195.1,70.1 190.8,69.8 187.0,68.7 C183.1,67.6 179.6,66.2 176.4,64.4 C173.2,62.6 170.1,60.6 167.8,58.0 Z" fill="#E4F6FC" stroke="#4e4e4e" stroke-width="0.85"/>
<path d="M217.2,35.5 C219.3,35.4 227.5,41.4 227.0,42.8 C226.5,44.1 215.7,44.8 214.1,43.6 C212.4,42.4 215.0,35.6 217.2,35.5 Z" fill="#FDEBE8" stroke="#4e4e4e" stroke-width="0.85"/>
<path d="M202.7,42.0 C202.7,41.5 205.0,40.5 206.1,40.5 C207.2,40.5 209.5,41.5 209.5,42.0 C209.5,42.5 207.2,43.6 206.1,43.6 C205.0,43.6 202.7,42.5 202.7,42.0 Z" fill="#FDEBE8" stroke="#4e4e4e" stroke-width="0.85"/>
<path d="M244.6,36.7 C245.4,36.0 247.4,34.4 249.1,34.0 C250.9,33.6 253.9,33.9 255.2,34.4 C256.5,34.9 257.6,35.8 256.8,36.7 C256.1,37.7 252.2,39.0 250.6,40.1 C249.1,41.2 248.8,43.9 247.6,43.6 C246.5,43.3 244.4,39.4 243.9,38.2 C243.3,37.1 243.7,37.4 244.6,36.7 Z" fill="#FDEBE8" stroke="#4e4e4e" stroke-width="0.85"/>
<path d="M272.1,14.5 C272.1,13.8 274.8,12.8 276.5,12.2 C278.3,11.6 279.8,11.2 282.7,11.0 C285.6,10.8 292.1,9.6 294.0,10.7 C295.9,11.8 295.9,16.5 294.0,17.6 C292.1,18.7 285.6,17.4 282.7,17.1 C279.8,16.9 278.3,16.5 276.5,16.1 C274.8,15.7 272.1,15.2 272.1,14.5 Z" fill="#B6E8F8" stroke="#4e4e4e" stroke-width="0.85"/>
<path d="M270.1,56.0 C270.6,54.6 272.4,52.2 274.1,51.5 C275.7,50.8 278.4,50.9 280.0,51.5 C281.7,52.1 283.5,53.6 284.0,55.0 C284.5,56.4 284.2,58.8 283.0,60.0 C281.9,61.2 279.0,62.0 277.0,62.0 C275.1,62.0 272.2,61.0 271.1,60.0 C269.9,59.0 269.6,57.4 270.1,56.0 Z" fill="#E4F6FC" stroke="#4e4e4e" stroke-width="0.85"/>
<path d="M237.7,69.2 C236.9,70.4 242.1,69.6 243.9,70.0 C245.7,70.4 247.3,71.5 248.5,71.6 C249.8,71.7 251.9,70.5 251.6,70.8 C251.4,71.0 248.8,72.2 247.0,73.1 C245.1,74.0 242.2,74.9 240.8,76.2 C239.4,77.5 238.6,79.5 238.5,80.9 C238.3,82.3 239.1,83.6 240.0,84.8 C240.9,86.0 242.2,86.9 243.9,87.9 C245.6,88.9 248.1,90.3 250.1,91.0 C252.2,91.7 254.3,92.2 256.3,91.8 C258.4,91.4 261.0,89.7 262.5,88.7 C264.0,87.7 264.5,86.4 265.6,85.6 C266.6,84.8 267.7,84.1 268.8,84.0 C269.8,83.9 270.8,83.8 271.9,84.8 C272.9,85.8 273.7,88.3 275.0,90.3 C276.3,92.2 278.1,95.0 279.6,96.5 C281.2,98.0 282.7,98.6 284.2,99.6 C285.8,100.6 287.3,102.0 288.9,102.7 C290.5,103.4 293.1,108.8 294.0,103.5 C294.8,98.2 295.1,76.2 294.0,70.8 C292.9,65.3 289.7,70.9 287.3,70.8 C284.9,70.7 282.5,70.4 279.6,70.0 C276.8,69.6 273.6,69.2 270.3,68.5 C266.9,67.8 263.0,67.0 259.4,66.1 C255.8,65.2 252.2,62.5 248.5,63.0 C244.9,63.5 238.5,68.0 237.7,69.2 Z" fill="#E4F6FC" stroke="#4e4e4e" stroke-width="0.85"/>
<path d="M-3.0,107.4 C-1.1,105.8 5.5,108.3 8.5,109.1 C11.4,109.9 13.3,110.6 14.8,112.3 C16.4,114.0 21.0,117.9 18.0,119.0 C15.1,120.1 0.5,120.9 -3.0,119.0 C-6.5,117.1 -4.9,109.1 -3.0,107.4 Z" fill="#E4F6FC" stroke="#4e4e4e" stroke-width="0.85"/>
<path d="M57.3,119.0 C34.7,116.3 55.9,106.2 56.3,102.8 C56.7,99.4 57.2,99.6 59.5,98.5 C61.8,97.4 65.8,97.1 70.1,96.4 C74.3,95.7 80.4,95.3 85.0,94.2 C89.6,93.1 92.7,91.4 97.7,90.0 C102.6,88.6 109.6,86.6 114.6,85.7 C119.6,84.8 123.1,84.2 127.5,84.5 C131.8,84.8 136.1,86.6 140.9,87.2 C145.7,87.8 151.8,87.4 156.5,87.9 C161.1,88.4 165.5,89.4 168.8,90.3 C172.2,91.2 174.3,92.2 176.6,93.2 C178.9,94.2 181.2,95.2 182.8,96.5 C184.3,97.8 185.1,99.4 185.9,101.2 C186.6,103.0 186.7,105.3 187.5,107.4 C188.2,109.5 189.8,111.7 190.5,113.6 C191.3,115.5 214.3,118.1 192.1,119.0 C169.9,119.9 79.9,121.7 57.3,119.0 Z" fill="#E4F6FC" stroke="#4e4e4e" stroke-width="0.85"/>
<path d="M87.1,119.0 C86.3,118.0 87.9,114.1 88.7,113.0 C89.5,111.9 90.9,111.5 91.7,112.5 C92.5,113.5 94.4,117.9 93.7,119.0 C92.9,120.1 87.9,120.0 87.1,119.0 Z" fill="#B6E8F8" stroke="#4e4e4e" stroke-width="0.85"/>
<path d="M171.9,103.0 C172.1,102.2 173.4,100.6 174.4,100.4 C175.4,100.2 177.7,101.1 178.1,102.0 C178.5,102.9 177.7,105.2 176.9,105.8 C176.1,106.4 174.2,106.0 173.4,105.5 C172.6,105.0 171.7,103.8 171.9,103.0 Z" fill="#B6E8F8" stroke="#4e4e4e" stroke-width="0.85"/>
<path d="M177.4,117.0 C176.4,115.7 178.4,110.6 179.4,109.0 C180.4,107.4 182.3,107.2 183.4,107.4 C184.4,107.6 185.5,108.4 185.9,110.0 C186.2,111.6 186.8,115.8 185.4,117.0 C184.0,118.2 178.4,118.3 177.4,117.0 Z" fill="#B6E8F8" stroke="#4e4e4e" stroke-width="0.85"/>
<path d="M184.4,87.2 C185.1,86.2 188.2,85.9 190.5,85.6 C192.9,85.3 196.1,85.1 198.3,85.6 C200.5,86.1 202.4,87.4 203.7,88.7 C205.0,90.0 206.2,92.1 206.1,93.4 C206.0,94.7 204.3,95.7 203.0,96.5 C201.7,97.3 199.6,98.0 198.3,98.1 C197.0,98.2 196.5,97.8 195.2,97.3 C193.9,96.8 192.1,95.8 190.5,94.9 C189.0,94.0 186.9,93.1 185.9,91.8 C184.8,90.5 183.6,88.2 184.4,87.2 Z" fill="#F9C1B8" stroke="#4e4e4e" stroke-width="0.85"/>
<path d="M265.6,119.0 C261.4,117.3 264.7,110.9 266.1,109.0 C267.5,107.1 271.1,107.6 274.1,107.4 C277.0,107.2 281.2,107.6 284.0,108.0 C286.8,108.4 289.8,108.2 291.0,110.0 C292.2,111.8 295.2,117.5 291.0,119.0 C286.8,120.5 269.7,120.7 265.6,119.0 Z" fill="#F9C1B8" stroke="#4e4e4e" stroke-width="0.85"/>
<path d="M197.3,119.0 C195.0,116.5 196.2,106.7 197.3,104.0 C198.5,101.3 202.0,102.3 204.3,103.0 C206.6,103.7 210.1,105.3 211.3,108.0 C212.4,110.7 213.6,117.2 211.3,119.0 C208.9,120.8 199.6,121.5 197.3,119.0 Z" fill="#E4F6FC" stroke="#4e4e4e" stroke-width="0.85"/>
<path d="M72.8,0V116 M145.5,0V116 M218.2,0V116" stroke="#7a7a7a" stroke-width="1" stroke-dasharray="1.2 5.3" fill="none"/>
<path d="M0,29.0H291 M0,58.0H291 M0,87.0H291" stroke="#b0b0b0" stroke-width="0.9" stroke-dasharray="1.2 5.3" fill="none"/>
<g fill="none" stroke="#111" stroke-width="1.45" stroke-linejoin="round">
<polyline points="31.0,0.0 31.3,2.9 31.5,5.8 32.3,8.7 32.7,11.6 33.5,13.6 34.2,15.4 35.2,18.0 35.9,20.9 36.9,23.2 37.8,24.9 38.6,26.7 39.3,29.0 40.0,31.3 41.0,33.1 42.4,34.5 43.9,33.1 44.1,31.3 46.1,31.0 46.8,28.1 48.3,28.1 48.0,24.6 49.0,20.3 49.0,17.4 48.7,14.5 49.2,12.2 50.9,12.2 51.9,10.4 54.1,9.6 54.1,8.7 56.3,7.0 58.2,4.9 60.1,2.3 61.8,0.6 63.8,0.0 64.3,-0.9"/>
<polyline points="79.5,-0.9 81.0,1.4 82.2,3.2 83.4,4.9 83.7,7.2 83.2,9.9 82.9,11.6 84.4,11.9 85.6,12.5 86.8,11.6 88.0,10.2 89.5,8.4 90.5,9.3 91.2,11.0 91.4,13.6 92.4,16.5 92.9,19.7 93.6,22.6 93.6,26.1 93.6,29.0 92.9,31.9 92.9,34.2 93.8,34.8 95.3,36.8 96.3,38.9 97.7,41.5 98.0,44.1 98.7,46.4 99.7,48.7 100.4,50.2 102.3,51.6 104.3,53.4 105.5,54.2 107.2,53.9 106.9,52.2 105.7,49.9 105.2,47.0 105.2,45.0 104.5,42.6 102.8,40.3 101.1,38.9 99.4,38.0 98.0,36.8 97.2,34.8 96.8,32.2 95.1,30.2 95.1,28.1 95.8,25.8 96.3,23.5 96.8,21.2 97.0,19.1 98.2,18.9 99.2,19.4 99.2,21.2 100.9,21.5 102.1,22.6 103.3,24.4 104.3,25.8 105.5,27.3 107.7,27.8 108.6,29.3 108.6,33.1 109.6,32.8 110.8,31.0 112.3,30.2 113.2,28.4 114.2,27.8 116.2,27.0 117.1,26.4 118.6,24.9 119.3,23.5 119.3,21.8 119.6,19.4 119.3,17.7 118.6,15.1 117.9,13.3 116.9,11.6 115.4,10.2 114.2,8.7 113.0,7.2 112.0,5.8 111.1,4.1 110.8,2.6 111.3,1.2 112.5,0.0 113.0,-0.9"/>
<polyline points="120.3,-0.9 121.0,-0.7 122.0,-0.9"/>
<polyline points="142.6,116.9 145.3,115.7 147.9,114.5 149.6,112.2 150.8,110.2 151.3,107.9 152.8,105.6 154.2,107.3 155.0,105.3 156.4,104.4 157.1,102.4 158.6,100.3 160.3,98.9 162.0,98.0 163.7,98.6 165.1,100.9 165.9,102.1 167.3,101.2 168.8,100.9 168.5,98.9 170.0,96.6 170.5,94.8 171.7,94.0 173.4,93.4 175.3,93.1 176.1,91.3 178.2,92.2 180.2,92.8 181.9,93.4 184.1,92.5 185.8,92.8 186.5,93.7 185.5,95.7 184.1,96.6 184.1,99.2 182.8,100.9 184.3,102.7 186.7,104.1 188.4,105.6 191.1,107.3 193.0,108.8 195.2,108.8 196.2,107.3 197.4,104.4 197.9,101.5 197.9,98.6 197.6,95.7 198.1,93.4 198.6,91.6 199.3,89.6 200.1,89.0 200.8,90.8 201.8,92.8 202.5,95.1 202.7,97.7 204.2,99.2 205.2,99.5 206.9,101.2 207.1,104.4 208.3,107.0 208.8,109.9 209.3,112.8 211.0,114.3 212.9,115.4 214.6,116.9"/>
<polyline points="252.0,116.9 252.4,116.3 253.4,116.9"/>
<polygon points="48.3,29.6 49.2,30.2 50.7,32.2 51.4,33.4 51.9,35.4 53.1,37.1 52.9,38.9 51.7,40.0 50.0,40.9 48.7,40.3 48.3,38.3 48.0,36.0 47.8,34.2 48.3,32.2"/>
<polygon points="117.9,2.6 118.1,4.3 120.0,5.2 121.2,4.6 122.5,3.5 123.7,1.2 122.9,-0.3 121.2,-0.3 120.0,0.3 118.6,1.2"/>
<polygon points="85.6,41.8 87.1,42.0 88.5,42.9 90.9,42.9 92.9,45.5 93.8,47.0 95.8,48.7 97.2,50.5 98.5,51.9 100.2,53.1 101.8,54.2 103.3,55.7 104.5,56.8 105.5,58.9 106.2,60.9 107.7,62.6 108.2,64.7 109.4,65.0 110.8,66.4 111.5,67.6 111.3,69.6 111.1,71.3 111.3,74.8 109.6,74.8 108.2,75.1 106.7,72.5 105.2,71.3 102.6,69.3 100.6,66.7 99.2,64.4 98.0,60.9 97.0,59.2 95.5,57.1 94.6,54.5 93.8,52.8 92.6,50.8 91.2,49.6 90.2,47.6 88.8,45.8 87.3,44.1 86.1,42.9"/>
<polygon points="109.4,62.6 111.3,62.4 112.3,64.4 113.5,66.4 112.3,67.0 111.1,65.5 109.6,64.1"/>
<polygon points="115.4,65.5 116.9,65.5 117.1,67.0 115.7,67.3"/>
<polygon points="109.6,77.7 111.3,75.4 113.5,75.7 115.4,76.0 117.1,76.3 117.9,77.4 119.8,78.0 122.2,78.0 123.4,76.6 124.9,77.4 127.6,78.0 128.0,79.5 129.7,80.3 131.9,80.6 132.4,81.8 132.2,83.2 130.0,82.1 127.8,82.4 125.1,82.1 122.0,81.5 119.8,80.3 116.9,80.6 114.9,79.8 112.8,79.5 111.1,78.0"/>
<polygon points="127.8,78.0 130.7,78.0 131.2,78.6 128.0,78.9"/>
<polygon points="132.2,81.5 133.9,81.5 135.1,82.4 133.9,83.5 132.4,82.4"/>
<polygon points="135.8,82.4 137.0,82.1 137.5,83.5 136.0,83.8"/>
<polygon points="137.7,82.9 139.4,82.4 140.7,81.5 142.3,81.8 143.1,82.7 142.1,83.2 140.2,84.1 138.2,84.4"/>
<polygon points="145.0,82.7 146.7,82.1 148.9,82.9 151.3,82.4 152.8,82.1 152.3,83.2 149.9,83.8 147.2,83.5 145.3,83.5"/>
<polygon points="143.1,85.3 145.3,85.0 147.4,86.7 146.0,87.9 143.6,86.4"/>
<polygon points="154.0,87.9 156.2,85.5 157.9,84.1 160.1,82.7 163.2,82.4 162.0,83.5 159.8,85.0 157.4,86.7 155.2,87.9"/>
<polygon points="118.8,53.4 120.3,52.2 122.0,53.1 123.7,53.4 124.4,51.3 125.9,49.6 128.5,48.7 130.7,45.8 131.9,44.7 133.4,43.5 134.3,42.6 135.8,40.6 137.5,38.0 138.7,38.0 139.9,39.4 140.9,40.9 142.8,42.0 143.8,43.2 142.1,44.4 140.9,45.5 139.9,47.6 139.4,49.9 140.4,52.8 142.8,54.8 143.1,55.4 140.9,56.5 139.4,58.0 139.2,60.0 138.0,61.8 137.0,63.8 136.5,66.1 135.8,68.4 133.4,69.6 132.2,68.2 130.0,67.3 127.6,67.9 125.4,66.7 123.7,66.7 121.7,66.4 121.2,63.2 119.8,60.6 118.8,58.0 118.8,55.4"/>
<polygon points="158.1,53.4 156.7,54.8 155.2,55.4 153.5,55.4 151.6,55.1 149.1,54.8 147.7,54.2 146.7,55.7 145.7,56.5 145.0,58.0 144.8,59.7 145.0,60.6 144.0,62.4 143.1,65.8 142.6,66.7 144.0,68.2 144.3,71.0 144.0,73.1 144.5,74.2 146.5,74.2 146.2,71.6 146.5,68.2 147.7,65.5 148.9,67.3 148.7,71.0 150.1,72.2 152.3,73.7 153.0,71.9 151.8,69.6 151.1,67.6 150.1,65.8 148.9,63.5 150.3,62.4 152.3,60.9 153.7,60.6 151.8,59.7 149.4,60.6 147.9,61.5 147.0,61.8 146.0,60.6 145.7,59.2 146.5,56.8 147.9,56.8 150.3,56.5 152.8,56.8 155.2,56.8 156.4,56.5 157.6,55.1"/>
<polygon points="163.7,51.6 164.9,53.6 164.7,55.1 166.6,53.6 165.4,56.5 166.8,57.4 165.6,59.5 164.9,60.3 163.9,58.9 164.4,55.7"/>
<polygon points="165.4,66.4 168.5,66.1 171.7,67.6 171.0,68.4 168.1,67.9 165.6,68.2"/>
<polygon points="160.1,67.3 162.0,66.7 163.0,68.2 161.5,69.0 160.3,68.4"/>
<polygon points="172.2,60.9 174.1,60.0 175.8,59.2 177.8,60.0 179.7,60.6 179.9,62.4 179.7,64.7 180.9,65.8 182.6,67.6 183.6,66.4 185.0,64.4 187.2,62.6 189.2,62.9 191.6,64.1 194.0,65.0 195.7,65.5 197.6,65.8 200.1,67.3 202.5,68.2 204.9,69.3 206.9,70.8 208.1,73.1 209.8,74.8 212.2,75.7 213.2,77.1 212.2,78.3 211.7,80.3 213.9,81.5 214.9,84.1 216.6,85.5 218.0,87.0 219.7,88.2 220.2,88.7 218.2,88.7 215.8,87.6 213.4,87.3 211.2,85.3 210.0,83.5 208.6,81.5 206.4,80.6 204.4,80.0 203.0,81.8 201.8,84.1 200.3,85.0 197.6,84.7 196.4,84.4 194.7,82.4 192.8,81.5 190.8,82.1 189.4,82.1 188.4,80.0 190.4,78.3 189.4,76.0 188.2,73.4 186.2,71.9 183.3,70.8 181.1,69.9 179.0,69.3 177.8,69.9 176.5,69.3 176.1,67.3 174.6,66.1 175.3,64.7 177.5,65.0 178.7,64.4 175.1,64.1 173.4,62.6 172.2,61.8"/>
<polygon points="214.1,74.2 215.8,74.0 218.7,74.0 220.4,72.8 221.9,72.2 223.1,70.5 224.1,71.0 222.6,73.4 221.4,75.1 219.2,76.3 217.0,76.0 214.6,75.4"/>
<polygon points="220.2,65.5 223.1,67.6 225.3,70.2 226.0,71.6 225.0,71.3 223.1,69.0 220.7,66.7"/>
<polygon points="210.0,63.7 211.9,63.7 211.9,64.2 210.0,64.2"/>
<polygon points="229.4,73.7 231.6,75.1 232.6,77.1 231.1,77.7 229.9,75.4"/>
<polygon points="241.5,85.0 244.4,85.5 244.0,86.7 241.8,86.1"/>
<polygon points="245.4,87.6 247.6,88.5 248.3,89.3 246.4,89.0"/>
<polygon points="258.3,100.3 260.0,101.5 260.2,103.2 259.0,103.2 258.5,102.1"/>
<polygon points="260.0,104.1 261.4,105.0 260.9,106.1 260.2,105.3"/>
<polygon points="284.5,108.8 286.6,108.5 287.6,110.2 286.4,111.1 284.5,110.5"/>
<polygon points="287.6,105.3 289.8,105.3 291.5,105.0 291.5,106.7 289.3,106.7 288.1,106.7"/>
<polygon points="147.0,4.3 148.4,4.1 150.3,4.3 151.1,7.2 150.8,9.9 149.4,11.9 149.4,14.5 150.1,16.8 151.8,16.5 153.0,18.0 154.5,18.0 155.4,20.3 155.2,21.5 153.5,20.3 151.8,19.1 149.9,17.7 148.2,18.6 147.0,16.5 147.0,15.1 145.5,14.8 145.3,12.5 146.2,11.0 146.5,7.8"/>
<polygon points="146.2,18.9 148.2,19.1 149.1,21.5 148.4,22.6 147.2,21.8"/>
<polygon points="150.1,23.5 151.6,24.4 153.0,25.5 151.8,27.0 150.3,27.6 150.1,26.1"/>
<polygon points="152.5,26.4 154.0,26.7 153.3,31.0 151.6,30.7 151.3,28.4"/>
<polygon points="155.0,25.2 155.4,27.3 153.7,30.2 153.5,28.4"/>
<polygon points="154.7,28.7 156.7,28.7 156.2,30.2 154.7,29.9"/>
<polygon points="155.9,21.8 158.4,21.8 159.6,24.6 158.1,25.8 157.4,24.9 155.9,23.2"/>
<polygon points="155.9,24.6 157.6,25.2 158.4,27.8 157.1,29.0 155.9,27.0"/>
<polygon points="150.1,37.7 150.8,35.1 152.3,34.8 154.0,33.4 154.7,34.5 155.7,34.2 156.9,33.4 157.6,31.9 158.8,29.6 160.3,30.7 160.8,33.4 161.5,36.8 160.5,39.7 159.1,37.4 158.6,40.0 158.1,41.8 155.7,40.0 155.2,37.7 154.0,35.7 152.5,36.5 150.8,38.0"/>
<polygon points="138.7,33.6 140.7,31.6 142.3,29.3 144.0,27.3 144.5,24.9 143.6,25.5 141.9,27.8 139.7,30.7"/>
<polygon points="169.8,91.1 172.2,90.5 173.4,91.3 171.7,92.5 170.0,92.2"/>
</g></g>
<rect x="0" y="0" width="291" height="116" fill="none" stroke="#000" stroke-width="2"/>
<path d="M0.0,116v4 M0,0.0h-4 M72.8,116v4 M0,29.0h-4 M145.5,116v4 M0,58.0h-4 M218.2,116v4 M0,87.0h-4 M291.0,116v4 M0,116.0h-4" stroke="#000" stroke-width="1.5"/>
<text x="-26.2" y="4.1" class="tk" textLength="19.8" lengthAdjust="spacingAndGlyphs">20N</text>
<text x="-26.2" y="33.1" class="tk" textLength="19.8" lengthAdjust="spacingAndGlyphs">10N</text>
<text x="-19.6" y="62.1" class="tk" textLength="13.2" lengthAdjust="spacingAndGlyphs">EQ</text>
<text x="-26.2" y="91.1" class="tk" textLength="19.8" lengthAdjust="spacingAndGlyphs">10S</text>
<text x="-26.2" y="120.1" class="tk" textLength="19.8" lengthAdjust="spacingAndGlyphs">20S</text>
<text x="-9.9" y="129.9" class="tk" textLength="19.8" lengthAdjust="spacingAndGlyphs">60E</text>
<text x="62.9" y="129.9" class="tk" textLength="19.8" lengthAdjust="spacingAndGlyphs">90E</text>
<text x="132.3" y="129.9" class="tk" textLength="26.4" lengthAdjust="spacingAndGlyphs">120E</text>
<text x="205.1" y="129.9" class="tk" textLength="26.4" lengthAdjust="spacingAndGlyphs">150E</text>
<text x="281.1" y="129.9" class="tk" textLength="19.8" lengthAdjust="spacingAndGlyphs">180</text>
</g>
<g transform="translate(28,204)">
<clipPath id="cpc"><rect x="0" y="0" width="292" height="116"/></clipPath>
<g clip-path="url(#cpc)">
<rect x="0" y="0" width="292" height="116" fill="#FDEBE8"/>
<path d="M-3.0,-3.0 C46.7,-7.5 245.3,-8.0 295.0,-3.0 C344.7,2.0 297.9,21.7 295.0,26.8 C292.1,31.9 282.7,27.4 277.8,27.6 C272.9,27.9 269.6,28.3 265.5,28.3 C261.4,28.3 257.1,27.9 253.3,27.6 C249.5,27.4 246.1,27.6 242.5,26.8 C238.9,26.0 235.6,22.9 231.8,23.0 C228.0,23.1 223.7,26.7 219.6,27.6 C215.5,28.5 210.6,29.1 207.3,28.3 C204.0,27.5 201.5,25.2 199.7,23.0 C197.9,20.8 197.9,17.2 196.6,15.3 C195.3,13.4 193.9,11.6 192.0,11.5 C190.1,11.4 187.8,13.2 185.0,15.0 C182.2,16.8 178.0,20.3 175.0,22.0 C172.0,23.7 170.1,24.2 167.0,25.0 C163.9,25.8 159.9,26.2 156.3,27.0 C152.7,27.8 149.3,29.2 145.5,30.0 C141.7,30.8 137.1,31.1 133.3,31.5 C129.5,31.9 125.9,32.5 122.6,32.5 C119.3,32.5 116.5,31.8 113.4,31.5 C110.3,31.2 106.6,30.9 104.2,30.5 C101.8,30.1 101.0,29.9 99.0,29.0 C97.0,28.1 94.2,25.2 92.0,25.0 C89.8,24.8 88.8,26.9 86.0,27.5 C83.2,28.1 78.3,28.2 75.0,28.5 C71.7,28.8 69.2,29.4 66.3,29.5 C63.4,29.6 60.4,29.0 57.4,29.0 C54.4,29.0 51.5,29.5 48.5,29.5 C45.5,29.5 41.9,29.4 39.5,29.0 C37.1,28.6 35.9,28.0 34.4,27.0 C32.9,26.0 31.7,24.0 30.6,23.0 C29.5,22.0 29.8,21.3 28.0,21.0 C26.2,20.7 22.7,20.8 20.0,21.0 C17.3,21.2 14.5,22.1 12.0,22.5 C9.5,22.9 7.5,23.2 5.0,23.5 C2.5,23.8 -1.7,28.4 -3.0,24.0 C-4.3,19.6 -52.7,1.5 -3.0,-3.0 Z" fill="#E4F6FC" stroke="#4e4e4e" stroke-width="0.85"/>
<path d="M192.0,3.1 C194.7,3.7 198.6,5.4 201.2,5.4 C203.8,5.4 205.3,3.6 207.3,3.1 C209.3,2.6 211.9,3.3 213.4,2.3 C214.9,1.3 221.2,-2.1 216.5,-3.0 C211.8,-3.9 190.2,-3.8 185.0,-3.0 C179.8,-2.2 183.8,1.0 185.0,2.0 C186.2,3.0 189.3,2.5 192.0,3.1 Z" fill="#FDEBE8" stroke="#4e4e4e" stroke-width="0.85"/>
<path d="M-3.0,-3.0 C2.1,-6.3 22.4,-4.5 27.6,-3.0 C32.8,-1.5 28.6,3.7 28.3,6.1 C28.0,8.5 27.6,10.2 26.0,11.5 C24.4,12.8 21.2,13.0 18.4,13.8 C15.6,14.6 12.8,15.6 9.2,16.1 C5.6,16.6 -1.0,20.0 -3.0,16.8 C-5.0,13.6 -8.1,0.3 -3.0,-3.0 Z" fill="#B6E8F8" stroke="#4e4e4e" stroke-width="0.85"/>
<path d="M13.8,-3.0 C12.1,-2.1 13.8,1.2 14.5,2.5 C15.2,3.8 16.8,4.3 18.0,4.6 C19.2,4.8 20.9,5.3 22.0,4.0 C23.1,2.7 25.9,-1.8 24.5,-3.0 C23.1,-4.2 15.5,-3.9 13.8,-3.0 Z" fill="#8AD7F5" stroke="#4e4e4e" stroke-width="0.85"/>
<path d="M38.8,-3.0 C29.8,-1.6 38.7,2.4 38.8,5.6 C38.9,8.8 38.6,13.0 39.5,16.1 C40.4,19.2 41.5,22.7 44.1,24.5 C46.7,26.3 51.3,26.3 55.0,26.8 C58.7,27.3 62.3,27.4 66.4,27.5 C70.5,27.6 76.1,27.6 79.6,27.5 C83.1,27.4 85.5,27.5 87.4,26.6 C89.3,25.7 90.2,23.9 91.0,22.0 C91.8,20.1 91.7,17.3 92.0,15.0 C92.3,12.7 92.6,11.0 92.7,8.0 C92.8,5.0 101.5,-1.2 92.5,-3.0 C83.5,-4.8 47.8,-4.4 38.8,-3.0 Z" fill="#B6E8F8" stroke="#4e4e4e" stroke-width="0.85"/>
<path d="M98.1,13.8 C98.6,11.5 99.1,10.5 101.1,9.2 C103.1,7.9 107.5,6.7 110.3,6.1 C113.1,5.5 115.5,5.7 118.0,5.4 C120.5,5.2 123.6,5.0 125.6,4.6 C127.6,4.2 129.2,4.4 130.2,3.1 C131.2,1.8 126.4,-2.0 131.8,-3.0 C137.2,-4.0 156.5,-4.5 162.4,-3.0 C168.3,-1.5 166.2,3.3 167.0,6.1 C167.8,8.9 167.5,11.5 167.0,13.8 C166.5,16.1 165.7,18.1 163.9,19.9 C162.1,21.7 159.4,23.2 156.3,24.5 C153.2,25.8 149.3,26.7 145.5,27.6 C141.7,28.5 137.1,29.4 133.3,29.9 C129.5,30.4 125.9,30.6 122.6,30.6 C119.3,30.6 116.5,30.1 113.4,29.9 C110.3,29.6 106.5,29.5 104.2,29.1 C101.9,28.7 100.6,28.6 99.6,27.6 C98.6,26.6 98.3,25.3 98.1,23.0 C97.8,20.7 97.6,16.1 98.1,13.8 Z" fill="#B6E8F8" stroke="#4e4e4e" stroke-width="0.85"/>
<path d="M93.8,-3.0 C92.4,-1.8 93.3,2.1 93.8,4.0 C94.3,5.9 95.8,8.2 97.0,8.5 C98.2,8.8 100.1,7.9 101.0,6.0 C101.9,4.1 103.5,-1.5 102.3,-3.0 C101.1,-4.5 95.2,-4.2 93.8,-3.0 Z" fill="#FDEBE8" stroke="#4e4e4e" stroke-width="0.85"/>
<path d="M41.5,-3.0 C36.8,-1.4 41.0,4.4 42.1,6.9 C43.2,9.4 46.9,10.1 48.0,12.1 C49.1,14.1 47.8,17.1 48.7,18.7 C49.6,20.3 50.8,21.2 53.3,22.0 C55.8,22.8 60.5,23.0 63.8,23.3 C67.1,23.6 69.9,24.0 73.0,24.0 C76.1,24.0 80.2,23.8 82.2,23.3 C84.2,22.9 84.8,22.3 84.8,21.3 C84.8,20.3 84.2,18.5 82.2,17.4 C80.2,16.3 75.2,16.1 73.0,14.8 C70.8,13.5 69.4,11.5 69.0,9.5 C68.6,7.5 70.2,5.0 70.4,2.9 C70.6,0.8 75.2,-2.0 70.4,-3.0 C65.6,-4.0 46.2,-4.7 41.5,-3.0 Z" fill="#8AD7F5" stroke="#4e4e4e" stroke-width="0.85"/>
<path d="M130.2,-3.0 C124.3,-1.0 128.7,5.6 128.7,9.2 C128.7,12.8 128.4,16.5 130.2,18.4 C132.0,20.3 136.3,20.4 139.4,20.7 C142.5,20.9 145.3,20.5 148.6,19.9 C151.9,19.2 156.2,18.6 159.3,16.8 C162.4,15.0 166.2,12.5 167.0,9.2 C167.8,5.9 170.0,-1.0 163.9,-3.0 C157.8,-5.0 136.1,-5.0 130.2,-3.0 Z" fill="#8AD7F5" stroke="#4e4e4e" stroke-width="0.85"/>
<path d="M241.0,-3.0 C232.8,-1.5 243.5,3.8 245.6,6.1 C247.7,8.4 250.8,9.3 253.3,10.7 C255.9,12.1 258.3,13.7 260.9,14.5 C263.4,15.3 265.8,15.2 268.6,15.3 C271.4,15.4 274.7,15.4 277.8,15.3 C280.9,15.2 284.1,14.8 287.0,14.5 C289.9,14.2 293.7,16.7 295.0,13.8 C296.3,10.9 304.0,-0.2 295.0,-3.0 C286.0,-5.8 249.2,-4.5 241.0,-3.0 Z" fill="#B6E8F8" stroke="#4e4e4e" stroke-width="0.85"/>
<path d="M266.0,6.0 C266.3,5.0 270.0,5.0 272.0,5.0 C274.0,5.0 277.7,5.0 278.0,6.0 C278.3,7.0 275.3,10.2 274.0,11.0 C272.7,11.8 271.3,11.8 270.0,11.0 C268.7,10.2 265.7,7.0 266.0,6.0 Z" fill="#E4F6FC" stroke="#4e4e4e" stroke-width="0.85"/>
<path d="M-3.0,25.0 C-1.2,20.1 4.5,24.5 8.0,24.5 C11.5,24.5 14.7,24.7 18.0,25.0 C21.3,25.3 25.5,25.8 28.0,26.5 C30.5,27.2 31.3,28.2 33.0,29.0 C34.7,29.8 36.0,30.8 38.0,31.5 C40.0,32.2 42.2,32.8 45.0,33.0 C47.8,33.2 51.7,32.8 55.0,33.0 C58.3,33.2 61.7,33.7 65.0,34.0 C68.3,34.3 71.7,34.8 75.0,35.0 C78.3,35.2 82.2,35.0 85.0,35.5 C87.8,36.0 90.0,36.9 92.0,38.0 C94.0,39.1 95.7,40.3 97.0,42.0 C98.3,43.7 99.3,45.8 100.0,48.0 C100.7,50.2 100.3,52.7 101.0,55.0 C101.7,57.3 103.2,60.2 104.0,62.0 C104.8,63.8 106.7,66.0 106.0,66.0 C105.3,66.0 102.3,62.6 100.0,62.0 C97.7,61.4 95.4,61.8 92.0,62.1 C88.6,62.4 83.4,63.3 79.6,63.7 C75.8,64.1 72.0,64.2 68.9,64.4 C65.9,64.7 63.8,65.2 61.3,65.2 C58.8,65.2 55.9,64.0 53.6,64.4 C51.3,64.8 49.0,66.3 47.5,67.5 C46.0,68.7 46.2,69.9 44.4,71.3 C42.6,72.7 39.1,74.6 36.8,75.9 C34.5,77.2 32.4,79.2 30.6,79.0 C28.8,78.8 27.3,76.7 26.0,74.4 C24.7,72.1 24.0,67.8 23.0,65.2 C22.0,62.7 21.7,59.9 19.9,59.1 C18.1,58.3 14.1,61.1 12.3,60.6 C10.5,60.1 10.4,57.1 9.2,56.0 C8.0,54.9 7.0,54.3 5.0,54.0 C3.0,53.7 -1.7,58.8 -3.0,54.0 C-4.3,49.2 -4.8,29.9 -3.0,25.0 Z" fill="#F9C1B8" stroke="#4e4e4e" stroke-width="0.85"/>
<path d="M-3.0,26.8 C-1.0,25.7 5.4,26.1 8.8,26.1 C12.2,26.1 14.4,26.4 17.5,26.8 C20.6,27.2 25.7,27.7 27.7,28.3 C29.7,28.9 29.8,29.6 29.5,30.5 C29.2,31.4 27.2,32.8 26.0,34.0 C24.8,35.2 23.0,36.8 22.0,38.0 C21.0,39.2 19.8,40.1 20.0,41.0 C20.2,41.9 21.5,42.6 23.0,43.5 C24.5,44.4 27.2,45.8 29.2,46.5 C31.2,47.2 33.3,47.8 35.0,47.5 C36.7,47.2 37.9,45.6 39.4,44.8 C40.9,44.0 42.6,42.5 43.8,42.5 C45.0,42.5 45.7,44.7 46.7,44.5 C47.7,44.3 48.6,42.6 49.6,41.5 C50.6,40.4 51.1,38.8 52.6,37.8 C54.1,36.8 56.5,35.7 58.4,35.6 C60.3,35.5 62.2,36.4 64.2,37.1 C66.2,37.8 68.1,39.1 70.1,40.0 C72.0,40.9 74.0,42.0 75.9,42.2 C77.9,42.4 79.8,41.4 81.8,41.4 C83.8,41.4 86.3,41.4 87.6,42.2 C88.9,43.0 89.4,44.6 89.5,46.0 C89.6,47.4 89.3,49.4 88.0,50.5 C86.7,51.6 83.8,52.2 81.8,52.4 C79.8,52.6 77.9,52.0 75.9,51.7 C74.0,51.4 72.0,50.7 70.1,50.5 C68.1,50.3 66.2,50.4 64.2,50.5 C62.2,50.6 60.6,50.8 58.4,51.0 C56.2,51.2 53.5,51.6 51.1,51.7 C48.7,51.8 46.0,51.6 43.8,51.7 C41.6,51.8 39.7,52.4 38.0,52.4 C36.3,52.4 35.3,52.1 33.6,51.7 C31.9,51.3 29.9,50.7 28.0,50.0 C26.1,49.3 23.8,48.3 22.0,47.5 C20.2,46.7 18.2,45.9 17.0,45.0 C15.8,44.1 15.0,43.2 15.0,42.0 C15.0,40.8 16.2,39.2 17.0,38.0 C17.8,36.8 18.9,35.6 20.0,34.5 C21.1,33.4 23.5,32.2 23.5,31.5 C23.5,30.8 21.5,30.1 20.0,30.0 C18.5,29.9 16.7,30.5 14.6,30.8 C12.5,31.1 10.2,31.7 7.3,32.0 C4.4,32.3 -1.3,33.6 -3.0,32.7 C-4.7,31.8 -5.0,27.9 -3.0,26.8 Z" fill="#F89F8F" stroke="#4e4e4e" stroke-width="0.85"/>
<path d="M-3.0,38.3 C-2.2,37.0 0.7,37.9 2.0,38.5 C3.3,39.1 4.6,40.8 4.6,42.0 C4.6,43.2 3.3,45.3 2.0,46.0 C0.7,46.7 -2.2,47.3 -3.0,46.0 C-3.8,44.7 -3.8,39.5 -3.0,38.3 Z" fill="#F89F8F" stroke="#4e4e4e" stroke-width="0.85"/>
<path d="M108.0,60.0 C105.0,57.6 106.9,49.3 107.3,45.9 C107.7,42.5 108.5,41.3 110.3,39.8 C112.1,38.3 115.5,37.6 118.0,36.8 C120.5,36.0 122.5,35.6 125.6,35.2 C128.7,34.8 133.0,34.5 136.3,34.5 C139.6,34.5 142.7,35.0 145.5,35.2 C148.3,35.5 150.9,36.0 153.2,36.0 C155.5,36.0 156.2,35.7 159.3,35.2 C162.4,34.7 167.5,33.3 171.6,32.9 C175.7,32.5 180.5,32.2 183.8,32.9 C187.1,33.5 190.0,34.9 191.5,36.8 C193.0,38.7 193.8,42.6 193.0,44.4 C192.2,46.2 189.7,46.7 186.9,47.5 C184.1,48.3 179.8,49.0 176.2,49.0 C172.6,49.0 168.0,48.5 165.4,47.5 C162.8,46.5 162.2,43.5 160.8,42.9 C159.4,42.3 158.0,42.8 157.0,44.0 C156.0,45.2 155.6,47.3 155.0,50.0 C154.4,52.7 155.7,58.0 153.2,60.0 C150.7,62.0 144.7,62.0 140.0,62.0 C135.3,62.0 130.3,60.3 125.0,60.0 C119.7,59.7 111.0,62.4 108.0,60.0 Z" fill="#F9C1B8" stroke="#4e4e4e" stroke-width="0.85"/>
<path d="M134.8,42.5 C135.1,42.0 136.0,41.3 137.0,41.3 C138.0,41.3 140.7,42.0 141.0,42.5 C141.3,43.0 139.9,44.1 139.0,44.4 C138.1,44.7 136.2,44.7 135.5,44.4 C134.8,44.1 134.6,43.0 134.8,42.5 Z" fill="#F89F8F" stroke="#4e4e4e" stroke-width="0.85"/>
<path d="M247.1,36.0 C247.9,35.2 250.2,34.8 253.3,34.5 C256.4,34.2 261.4,34.8 265.5,34.5 C269.6,34.2 274.0,33.4 277.8,32.9 C281.6,32.4 285.6,31.6 288.5,31.4 C291.4,31.1 293.9,28.7 295.0,31.4 C296.1,34.1 296.9,45.1 295.0,47.5 C293.1,49.9 287.3,46.4 283.9,45.9 C280.5,45.4 277.2,44.1 274.7,44.4 C272.1,44.7 270.4,46.2 268.6,47.5 C266.8,48.8 265.8,51.6 264.0,52.1 C262.2,52.6 259.1,51.8 257.8,50.5 C256.5,49.2 257.1,46.2 256.3,44.4 C255.6,42.6 254.6,40.7 253.3,39.8 C252.0,38.9 249.7,39.6 248.7,39.0 C247.7,38.4 246.3,36.8 247.1,36.0 Z" fill="#F9C1B8" stroke="#4e4e4e" stroke-width="0.85"/>
<path d="M282.4,38.0 C283.0,37.0 284.7,35.5 286.0,35.2 C287.3,34.9 289.3,35.0 290.0,36.0 C290.7,37.0 290.8,39.9 290.0,41.0 C289.2,42.1 286.2,42.9 285.0,42.9 C283.8,42.9 282.9,41.8 282.5,41.0 C282.1,40.2 281.8,39.0 282.4,38.0 Z" fill="#F89F8F" stroke="#4e4e4e" stroke-width="0.85"/>
<path d="M-3.0,77.4 C-1.5,71.0 3.5,80.5 6.1,80.5 C8.6,80.5 9.5,77.5 12.3,77.4 C15.1,77.3 19.4,79.2 23.0,79.7 C26.6,80.2 30.4,80.1 33.7,80.5 C37.0,80.9 40.9,81.0 42.9,82.0 C44.9,83.0 46.2,85.3 45.9,86.6 C45.6,87.9 43.8,88.7 41.3,89.7 C38.8,90.7 33.6,91.3 30.6,92.8 C27.6,94.3 24.8,96.6 23.0,98.9 C21.2,101.2 20.7,103.2 19.9,106.5 C19.1,109.8 22.2,116.9 18.4,119.0 C14.6,121.1 0.6,125.9 -3.0,119.0 C-6.6,112.1 -4.5,83.8 -3.0,77.4 Z" fill="#E4F6FC" stroke="#4e4e4e" stroke-width="0.85"/>
<path d="M-3.0,82.0 C-1.2,76.3 4.7,84.6 7.7,85.1 C10.8,85.6 12.8,85.0 15.3,85.1 C17.9,85.2 20.2,85.7 23.0,85.9 C25.8,86.2 30.4,86.1 32.2,86.6 C34.0,87.1 35.0,88.2 33.7,88.9 C32.4,89.6 27.1,89.7 24.5,90.5 C21.9,91.3 20.2,91.8 18.4,93.5 C16.6,95.2 14.8,98.2 13.8,100.4 C12.8,102.6 13.1,104.7 12.3,106.5 C11.5,108.3 10.2,109.0 9.2,111.1 C8.2,113.2 8.1,117.7 6.1,119.0 C4.1,120.3 -1.5,125.2 -3.0,119.0 C-4.5,112.8 -4.8,87.7 -3.0,82.0 Z" fill="#B6E8F8" stroke="#4e4e4e" stroke-width="0.85"/>
<path d="M-3.0,89.7 C-1.5,87.7 3.5,92.8 6.1,94.3 C8.6,95.8 11.4,97.4 12.3,98.9 C13.2,100.4 12.5,102.5 11.5,103.5 C10.5,104.5 8.5,104.5 6.1,105.0 C3.7,105.5 -1.5,109.0 -3.0,106.5 C-4.5,104.0 -4.5,91.7 -3.0,89.7 Z" fill="#8AD7F5" stroke="#4e4e4e" stroke-width="0.85"/>
<path d="M59.7,85.1 C59.5,84.3 62.5,83.5 64.3,82.0 C66.1,80.5 68.6,77.4 70.4,75.9 C72.2,74.4 73.2,73.0 75.0,72.8 C76.8,72.5 79.4,74.5 81.2,74.4 C83.0,74.3 84.5,71.8 85.8,72.1 C87.1,72.3 88.5,74.8 88.8,75.9 C89.0,77.1 88.6,78.2 87.3,79.0 C86.0,79.8 83.5,79.5 81.2,80.5 C78.9,81.5 76.1,84.1 73.5,85.1 C70.9,86.1 68.1,86.6 65.8,86.6 C63.5,86.6 60.0,85.9 59.7,85.1 Z" fill="#E4F6FC" stroke="#4e4e4e" stroke-width="0.85"/>
<path d="M95.0,71.3 C96.3,70.4 99.2,70.2 101.1,70.5 C103.0,70.8 105.6,71.4 106.5,72.8 C107.4,74.2 107.4,77.6 106.5,79.0 C105.6,80.4 103.0,81.0 101.1,81.3 C99.2,81.5 96.3,81.4 95.0,80.5 C93.7,79.6 93.0,77.5 93.0,76.0 C93.0,74.5 93.7,72.2 95.0,71.3 Z" fill="#E4F6FC" stroke="#4e4e4e" stroke-width="0.85"/>
<path d="M50.5,94.3 C50.8,93.0 52.8,92.4 55.1,92.0 C57.4,91.6 62.0,91.6 64.3,92.0 C66.6,92.4 68.4,92.9 68.9,94.3 C69.4,95.7 68.7,99.1 67.4,100.4 C66.1,101.7 63.6,102.1 61.3,102.0 C59.0,101.9 55.4,100.9 53.6,99.6 C51.8,98.3 50.2,95.6 50.5,94.3 Z" fill="#F9C1B8" stroke="#4e4e4e" stroke-width="0.85"/>
<path d="M79.6,103.5 C80.7,101.1 80.9,98.1 82.7,95.8 C84.5,93.5 88.4,91.6 90.4,89.7 C92.5,87.8 92.7,84.9 95.0,84.3 C97.3,83.7 101.1,85.8 104.2,85.9 C107.3,86.0 110.4,85.2 113.4,85.1 C116.4,85.0 119.5,84.7 122.0,85.4 C124.5,86.1 126.0,89.3 128.1,89.5 C130.2,89.7 132.4,87.1 134.3,86.4 C136.2,85.7 138.1,84.8 139.4,85.4 C140.8,86.0 140.9,89.8 142.4,90.0 C143.9,90.2 146.4,87.7 148.6,86.4 C150.8,85.1 153.0,83.5 155.7,82.3 C158.4,81.1 162.3,80.1 164.9,79.3 C167.5,78.5 168.6,77.5 171.0,77.2 C173.4,76.9 177.3,76.9 179.2,77.2 C181.1,77.5 182.3,78.6 182.3,79.3 C182.3,80.0 181.1,80.7 179.2,81.3 C177.3,81.9 173.4,82.2 171.0,82.9 C168.6,83.6 166.9,84.3 164.9,85.4 C162.9,86.5 160.8,87.8 158.8,89.5 C156.8,91.2 154.4,93.7 152.7,95.6 C151.0,97.5 149.8,98.9 148.6,100.7 C147.4,102.5 146.8,103.5 145.5,106.5 C144.2,109.5 152.8,116.9 141.0,119.0 C129.2,121.1 85.8,120.5 75.0,119.0 C64.2,117.5 75.2,112.6 76.0,110.0 C76.8,107.4 78.5,105.9 79.6,103.5 Z" fill="#F9C1B8" stroke="#4e4e4e" stroke-width="0.85"/>
<path d="M142.4,99.7 C142.2,98.3 142.7,96.3 143.5,94.6 C144.3,92.9 146.0,90.9 147.5,89.5 C149.0,88.1 151.5,86.7 152.7,86.4 C153.9,86.2 154.9,87.0 154.7,88.0 C154.5,89.0 152.4,91.1 151.6,92.6 C150.8,94.0 150.3,95.3 149.6,96.7 C148.9,98.1 148.3,99.7 147.5,100.7 C146.7,101.7 145.3,103.0 144.5,102.8 C143.7,102.6 142.6,101.1 142.4,99.7 Z" fill="#F89F8F" stroke="#4e4e4e" stroke-width="0.85"/>
<path d="M111.8,105.0 C113.0,104.0 116.0,103.4 118.0,103.5 C120.0,103.6 122.8,104.5 124.1,105.8 C125.4,107.1 125.8,108.9 125.6,111.1 C125.3,113.3 124.9,117.7 122.6,119.0 C120.3,120.3 113.7,120.6 111.8,119.0 C109.9,117.4 111.1,111.9 111.1,109.6 C111.1,107.3 110.6,106.0 111.8,105.0 Z" fill="#F89F8F" stroke="#4e4e4e" stroke-width="0.85"/>
<path d="M95.0,56.0 C96.2,54.8 100.9,55.0 104.0,55.0 C107.1,55.0 111.8,54.3 113.4,56.0 C115.0,57.7 114.8,63.9 113.4,65.2 C112.0,66.5 107.7,64.5 105.0,64.0 C102.3,63.5 98.7,63.3 97.0,62.0 C95.3,60.7 93.8,57.2 95.0,56.0 Z" fill="#F9C1B8" stroke="#4e4e4e" stroke-width="0.85"/>
<path d="M128.7,66.0 C129.5,64.3 131.4,62.7 133.0,62.1 C134.6,61.5 136.9,61.2 138.0,62.5 C139.1,63.8 139.9,67.6 139.4,70.0 C138.9,72.4 136.6,75.7 135.0,77.0 C133.4,78.3 131.2,78.8 130.0,78.0 C128.8,77.2 128.2,74.0 128.0,72.0 C127.8,70.0 127.9,67.7 128.7,66.0 Z" fill="#E4F6FC" stroke="#4e4e4e" stroke-width="0.85"/>
<path d="M157.8,62.1 C158.1,59.6 158.6,57.0 162.4,56.0 C166.2,55.0 177.5,54.5 180.8,56.0 C184.1,57.5 182.8,62.9 182.3,65.2 C181.8,67.5 180.0,68.5 177.7,69.8 C175.4,71.1 171.3,72.5 168.5,72.8 C165.7,73.0 162.6,73.1 160.8,71.3 C159.0,69.5 157.5,64.7 157.8,62.1 Z" fill="#E4F6FC" stroke="#4e4e4e" stroke-width="0.85"/>
<path d="M163.9,88.2 C166.0,87.5 171.3,90.0 174.6,90.5 C177.9,91.0 181.2,90.6 183.8,91.2 C186.4,91.8 188.0,93.3 189.9,94.3 C191.8,95.3 193.6,101.1 195.0,97.3 C196.4,93.5 196.3,75.9 198.1,71.3 C199.9,66.7 203.8,70.8 205.8,69.8 C207.9,68.8 209.4,66.8 210.4,65.2 C211.4,63.6 212.1,62.3 212.0,60.0 C211.9,57.7 209.2,53.6 209.9,51.2 C210.6,48.8 213.8,47.4 216.3,45.8 C218.8,44.2 222.8,43.5 224.9,41.6 C227.0,39.7 228.0,36.1 229.1,34.1 C230.2,32.1 230.6,29.4 231.3,29.8 C232.0,30.2 232.7,33.7 233.4,36.2 C234.1,38.7 234.4,41.9 235.5,44.8 C236.6,47.6 238.1,51.3 239.8,53.3 C241.6,55.3 243.8,55.8 246.0,57.0 C248.2,58.2 250.6,59.2 253.3,60.6 C256.0,62.0 259.3,63.2 262.4,65.2 C265.4,67.2 268.5,70.2 271.6,72.8 C274.7,75.3 278.0,78.5 280.8,80.5 C283.6,82.5 286.1,84.1 288.5,85.1 C290.9,86.1 293.9,84.3 295.0,86.6 C296.1,88.9 296.9,96.3 295.0,98.9 C293.1,101.5 287.0,100.7 283.9,102.0 C280.8,103.3 278.8,105.0 276.2,106.5 C273.6,108.0 270.4,109.0 268.6,111.1 C266.8,113.2 283.6,117.7 265.5,119.0 C247.4,120.3 176.8,121.3 160.0,119.0 C143.2,116.7 164.7,109.0 165.0,105.0 C165.3,101.0 162.2,97.8 162.0,95.0 C161.8,92.2 161.8,89.0 163.9,88.2 Z" fill="#E4F6FC" stroke="#4e4e4e" stroke-width="0.85"/>
<path d="M227.5,56.0 C227.7,54.8 228.2,51.9 229.0,51.0 C229.8,50.1 231.2,49.8 232.0,50.5 C232.8,51.2 233.7,53.6 233.5,55.0 C233.3,56.4 231.9,58.4 231.0,59.0 C230.1,59.6 228.6,59.0 228.0,58.5 C227.4,58.0 227.3,57.2 227.5,56.0 Z" fill="#FDEBE8" stroke="#4e4e4e" stroke-width="0.85"/>
<path d="M274.7,72.0 C274.7,70.6 276.5,68.6 278.0,68.3 C279.5,68.0 283.1,68.8 283.9,70.0 C284.7,71.2 284.0,74.4 283.0,75.5 C282.0,76.6 279.4,77.3 278.0,76.7 C276.6,76.1 274.7,73.4 274.7,72.0 Z" fill="#FDEBE8" stroke="#4e4e4e" stroke-width="0.85"/>
<path d="M192.0,65.2 C193.0,67.5 195.8,66.7 198.1,66.7 C200.4,66.7 204.0,66.0 205.8,65.2 C207.6,64.4 209.1,64.1 208.8,62.1 C208.6,60.1 207.1,54.5 204.3,53.0 C201.5,51.5 194.1,51.0 192.0,53.0 C189.9,55.0 191.0,62.9 192.0,65.2 Z" fill="#F9C1B8" stroke="#4e4e4e" stroke-width="0.85"/>
<path d="M227.2,74.4 C229.2,73.6 232.3,72.8 234.9,72.8 C237.5,72.8 239.7,73.4 242.5,74.4 C245.3,75.4 249.1,77.5 251.7,79.0 C254.2,80.5 256.0,81.6 257.8,83.6 C259.6,85.6 261.6,88.7 262.4,91.2 C263.2,93.8 263.2,96.4 262.4,98.9 C261.6,101.5 259.8,104.2 257.8,106.5 C255.8,108.8 252.8,110.6 250.2,112.7 C247.6,114.8 248.9,118.0 242.5,119.0 C236.1,120.0 217.5,120.3 211.9,119.0 C206.3,117.7 209.6,113.9 208.8,111.1 C208.0,108.3 208.3,105.0 207.3,102.0 C206.3,99.0 204.0,95.4 202.7,92.8 C201.4,90.2 198.9,88.1 199.7,86.6 C200.5,85.1 204.2,84.6 207.3,83.6 C210.4,82.6 215.4,81.5 218.0,80.5 C220.6,79.5 221.1,78.4 222.6,77.4 C224.1,76.4 225.1,75.2 227.2,74.4 Z" fill="#B6E8F8" stroke="#4e4e4e" stroke-width="0.85"/>
<path d="M221.1,98.9 C221.9,96.4 222.9,94.3 224.2,92.8 C225.5,91.3 226.5,90.7 228.8,89.7 C231.1,88.7 235.2,87.4 238.0,86.6 C240.8,85.8 243.0,85.1 245.6,85.1 C248.2,85.1 251.5,85.6 253.3,86.6 C255.1,87.6 256.1,89.9 256.3,91.2 C256.6,92.5 256.3,93.9 254.8,94.3 C253.3,94.7 249.7,93.2 247.1,93.5 C244.5,93.8 241.5,94.4 239.5,95.8 C237.5,97.2 235.2,99.6 234.9,101.9 C234.7,104.2 237.8,106.8 238.0,109.6 C238.2,112.4 239.2,117.4 236.4,119.0 C233.6,120.6 223.9,120.8 221.1,119.0 C218.3,117.2 219.6,111.4 219.6,108.1 C219.6,104.8 220.3,101.5 221.1,98.9 Z" fill="#8AD7F5" stroke="#4e4e4e" stroke-width="0.85"/>
<path d="M228.8,107.0 C229.1,106.1 230.2,105.0 231.0,105.0 C231.8,105.0 233.1,106.0 233.3,107.0 C233.5,108.0 232.6,110.5 232.0,111.1 C231.4,111.7 230.0,111.2 229.5,110.5 C229.0,109.8 228.6,107.9 228.8,107.0 Z" fill="#44C2F2" stroke="#4e4e4e" stroke-width="0.85"/>
<path d="M176.0,91.0 C176.7,90.3 181.0,91.0 183.0,91.5 C185.0,92.0 187.5,93.1 188.0,94.0 C188.5,94.9 187.5,96.8 186.0,97.0 C184.5,97.2 180.7,96.5 179.0,95.5 C177.3,94.5 175.3,91.7 176.0,91.0 Z" fill="#B6E8F8" stroke="#4e4e4e" stroke-width="0.85"/>
<path d="M267.0,108.1 C268.8,105.8 271.9,105.3 274.7,105.0 C277.5,104.7 280.5,106.5 283.9,106.5 C287.3,106.5 293.1,102.9 295.0,105.0 C296.9,107.1 300.2,116.7 295.0,119.0 C289.8,121.3 268.7,120.8 264.0,119.0 C259.3,117.2 265.2,110.4 267.0,108.1 Z" fill="#F9C1B8" stroke="#4e4e4e" stroke-width="0.85"/>
<path d="M192.0,119.0 C190.5,116.7 190.7,106.8 192.0,105.0 C193.3,103.2 198.5,105.7 200.0,108.0 C201.5,110.3 202.3,117.2 201.0,119.0 C199.7,120.8 193.5,121.3 192.0,119.0 Z" fill="#FDEBE8" stroke="#4e4e4e" stroke-width="0.85"/>
<path d="M73.0,0V116 M146.0,0V116 M219.0,0V116" stroke="#7a7a7a" stroke-width="1" stroke-dasharray="1.2 5.3" fill="none"/>
<path d="M0,29.0H292 M0,58.0H292 M0,87.0H292" stroke="#b0b0b0" stroke-width="0.9" stroke-dasharray="1.2 5.3" fill="none"/>
<g fill="none" stroke="#111" stroke-width="1.45" stroke-linejoin="round">
<polyline points="31.1,0.0 31.4,2.9 31.6,5.8 32.4,8.7 32.9,11.6 33.6,13.6 34.3,15.4 35.3,18.0 36.0,20.9 37.0,23.2 38.0,24.9 38.7,26.7 39.4,29.0 40.1,31.3 41.1,33.1 42.6,34.5 44.0,33.1 44.3,31.3 46.2,31.0 47.0,28.1 48.4,28.1 48.2,24.6 49.2,20.3 49.2,17.4 48.9,14.5 49.4,12.2 51.1,12.2 52.1,10.4 54.3,9.6 54.3,8.7 56.5,7.0 58.4,4.9 60.3,2.3 62.0,0.6 64.0,0.0 64.5,-0.9"/>
<polyline points="79.8,-0.9 81.3,1.4 82.5,3.2 83.7,4.9 84.0,7.2 83.5,9.9 83.2,11.6 84.7,11.9 85.9,12.5 87.1,11.6 88.3,10.2 89.8,8.4 90.8,9.3 91.5,11.0 91.7,13.6 92.7,16.5 93.2,19.7 93.9,22.6 93.9,26.1 93.9,29.0 93.2,31.9 93.2,34.2 94.2,34.8 95.6,36.8 96.6,38.9 98.1,41.5 98.3,44.1 99.0,46.4 100.0,48.7 100.7,50.2 102.7,51.6 104.6,53.4 105.8,54.2 107.6,53.9 107.3,52.2 106.1,49.9 105.6,47.0 105.6,45.0 104.9,42.6 103.2,40.3 101.5,38.9 99.8,38.0 98.3,36.8 97.6,34.8 97.1,32.2 95.4,30.2 95.4,28.1 96.1,25.8 96.6,23.5 97.1,21.2 97.3,19.1 98.5,18.9 99.5,19.4 99.5,21.2 101.2,21.5 102.4,22.6 103.7,24.4 104.6,25.8 105.8,27.3 108.0,27.8 109.0,29.3 109.0,33.1 110.0,32.8 111.2,31.0 112.7,30.2 113.6,28.4 114.6,27.8 116.6,27.0 117.5,26.4 119.0,24.9 119.7,23.5 119.7,21.8 120.0,19.4 119.7,17.7 119.0,15.1 118.3,13.3 117.3,11.6 115.8,10.2 114.6,8.7 113.4,7.2 112.4,5.8 111.4,4.1 111.2,2.6 111.7,1.2 112.9,0.0 113.4,-0.9"/>
<polyline points="120.7,-0.9 121.4,-0.7 122.4,-0.9"/>
<polyline points="143.1,116.9 145.8,115.7 148.4,114.5 150.1,112.2 151.4,110.2 151.8,107.9 153.3,105.6 154.8,107.3 155.5,105.3 156.9,104.4 157.7,102.4 159.1,100.3 160.8,98.9 162.5,98.0 164.2,98.6 165.7,100.9 166.4,102.1 167.9,101.2 169.4,100.9 169.1,98.9 170.6,96.6 171.1,94.8 172.3,94.0 174.0,93.4 175.9,93.1 176.7,91.3 178.8,92.2 180.8,92.8 182.5,93.4 184.7,92.5 186.4,92.8 187.1,93.7 186.2,95.7 184.7,96.6 184.7,99.2 183.5,100.9 184.9,102.7 187.4,104.1 189.1,105.6 191.7,107.3 193.7,108.8 195.9,108.8 196.9,107.3 198.1,104.4 198.6,101.5 198.6,98.6 198.3,95.7 198.8,93.4 199.3,91.6 200.0,89.6 200.8,89.0 201.5,90.8 202.5,92.8 203.2,95.1 203.4,97.7 204.9,99.2 205.9,99.5 207.6,101.2 207.8,104.4 209.0,107.0 209.5,109.9 210.0,112.8 211.7,114.3 213.6,115.4 215.3,116.9"/>
<polyline points="252.8,116.9 253.3,116.3 254.3,116.9"/>
<polygon points="48.4,29.6 49.4,30.2 50.9,32.2 51.6,33.4 52.1,35.4 53.3,37.1 53.0,38.9 51.8,40.0 50.1,40.9 48.9,40.3 48.4,38.3 48.2,36.0 47.9,34.2 48.4,32.2"/>
<polygon points="118.3,2.6 118.5,4.3 120.5,5.2 121.7,4.6 122.9,3.5 124.1,1.2 123.4,-0.3 121.7,-0.3 120.5,0.3 119.0,1.2"/>
<polygon points="85.9,41.8 87.4,42.0 88.8,42.9 91.2,42.9 93.2,45.5 94.2,47.0 96.1,48.7 97.6,50.5 98.8,51.9 100.5,53.1 102.2,54.2 103.7,55.7 104.9,56.8 105.8,58.9 106.6,60.9 108.0,62.6 108.5,64.7 109.7,65.0 111.2,66.4 111.9,67.6 111.7,69.6 111.4,71.3 111.7,74.8 110.0,74.8 108.5,75.1 107.1,72.5 105.6,71.3 102.9,69.3 101.0,66.7 99.5,64.4 98.3,60.9 97.3,59.2 95.9,57.1 94.9,54.5 94.2,52.8 93.0,50.8 91.5,49.6 90.5,47.6 89.1,45.8 87.6,44.1 86.4,42.9"/>
<polygon points="109.7,62.6 111.7,62.4 112.7,64.4 113.9,66.4 112.7,67.0 111.4,65.5 110.0,64.1"/>
<polygon points="115.8,65.5 117.3,65.5 117.5,67.0 116.1,67.3"/>
<polygon points="110.0,77.7 111.7,75.4 113.9,75.7 115.8,76.0 117.5,76.3 118.3,77.4 120.2,78.0 122.6,78.0 123.9,76.6 125.3,77.4 128.0,78.0 128.5,79.5 130.2,80.3 132.4,80.6 132.9,81.8 132.6,83.2 130.4,82.1 128.2,82.4 125.6,82.1 122.4,81.5 120.2,80.3 117.3,80.6 115.3,79.8 113.2,79.5 111.4,78.0"/>
<polygon points="128.2,78.0 131.2,78.0 131.6,78.6 128.5,78.9"/>
<polygon points="132.6,81.5 134.3,81.5 135.5,82.4 134.3,83.5 132.9,82.4"/>
<polygon points="136.3,82.4 137.5,82.1 138.0,83.5 136.5,83.8"/>
<polygon points="138.2,82.9 139.9,82.4 141.1,81.5 142.8,81.8 143.6,82.7 142.6,83.2 140.6,84.1 138.7,84.4"/>
<polygon points="145.5,82.7 147.2,82.1 149.4,82.9 151.8,82.4 153.3,82.1 152.8,83.2 150.4,83.8 147.7,83.5 145.8,83.5"/>
<polygon points="143.6,85.3 145.8,85.0 147.9,86.7 146.5,87.9 144.1,86.4"/>
<polygon points="154.5,87.9 156.7,85.5 158.4,84.1 160.6,82.7 163.8,82.4 162.5,83.5 160.4,85.0 157.9,86.7 155.7,87.9"/>
<polygon points="119.2,53.4 120.7,52.2 122.4,53.1 124.1,53.4 124.8,51.3 126.3,49.6 129.0,48.7 131.2,45.8 132.4,44.7 133.8,43.5 134.8,42.6 136.3,40.6 138.0,38.0 139.2,38.0 140.4,39.4 141.4,40.9 143.3,42.0 144.3,43.2 142.6,44.4 141.4,45.5 140.4,47.6 139.9,49.9 140.9,52.8 143.3,54.8 143.6,55.4 141.4,56.5 139.9,58.0 139.7,60.0 138.5,61.8 137.5,63.8 137.0,66.1 136.3,68.4 133.8,69.6 132.6,68.2 130.4,67.3 128.0,67.9 125.8,66.7 124.1,66.7 122.2,66.4 121.7,63.2 120.2,60.6 119.2,58.0 119.2,55.4"/>
<polygon points="158.7,53.4 157.2,54.8 155.7,55.4 154.0,55.4 152.1,55.1 149.7,54.8 148.2,54.2 147.2,55.7 146.2,56.5 145.5,58.0 145.3,59.7 145.5,60.6 144.5,62.4 143.6,65.8 143.1,66.7 144.5,68.2 144.8,71.0 144.5,73.1 145.0,74.2 147.0,74.2 146.7,71.6 147.0,68.2 148.2,65.5 149.4,67.3 149.2,71.0 150.6,72.2 152.8,73.7 153.5,71.9 152.3,69.6 151.6,67.6 150.6,65.8 149.4,63.5 150.9,62.4 152.8,60.9 154.3,60.6 152.3,59.7 149.9,60.6 148.4,61.5 147.5,61.8 146.5,60.6 146.2,59.2 147.0,56.8 148.4,56.8 150.9,56.5 153.3,56.8 155.7,56.8 156.9,56.5 158.2,55.1"/>
<polygon points="164.2,51.6 165.5,53.6 165.2,55.1 167.2,53.6 166.0,56.5 167.4,57.4 166.2,59.5 165.5,60.3 164.5,58.9 165.0,55.7"/>
<polygon points="166.0,66.4 169.1,66.1 172.3,67.6 171.6,68.4 168.6,67.9 166.2,68.2"/>
<polygon points="160.6,67.3 162.5,66.7 163.5,68.2 162.1,69.0 160.8,68.4"/>
<polygon points="172.8,60.9 174.7,60.0 176.4,59.2 178.4,60.0 180.3,60.6 180.6,62.4 180.3,64.7 181.5,65.8 183.2,67.6 184.2,66.4 185.7,64.4 187.9,62.6 189.8,62.9 192.2,64.1 194.7,65.0 196.4,65.5 198.3,65.8 200.8,67.3 203.2,68.2 205.6,69.3 207.6,70.8 208.8,73.1 210.5,74.8 212.9,75.7 213.9,77.1 212.9,78.3 212.4,80.3 214.6,81.5 215.6,84.1 217.3,85.5 218.8,87.0 220.5,88.2 220.9,88.7 219.0,88.7 216.6,87.6 214.1,87.3 211.9,85.3 210.7,83.5 209.3,81.5 207.1,80.6 205.1,80.0 203.7,81.8 202.5,84.1 201.0,85.0 198.3,84.7 197.1,84.4 195.4,82.4 193.4,81.5 191.5,82.1 190.0,82.1 189.1,80.0 191.0,78.3 190.0,76.0 188.8,73.4 186.9,71.9 184.0,70.8 181.8,69.9 179.6,69.3 178.4,69.9 177.1,69.3 176.7,67.3 175.2,66.1 175.9,64.7 178.1,65.0 179.3,64.4 175.7,64.1 174.0,62.6 172.8,61.8"/>
<polygon points="214.9,74.2 216.6,74.0 219.5,74.0 221.2,72.8 222.7,72.2 223.9,70.5 224.8,71.0 223.4,73.4 222.2,75.1 220.0,76.3 217.8,76.0 215.3,75.4"/>
<polygon points="220.9,65.5 223.9,67.6 226.1,70.2 226.8,71.6 225.8,71.3 223.9,69.0 221.4,66.7"/>
<polygon points="210.7,63.7 212.7,63.7 212.7,64.2 210.7,64.2"/>
<polygon points="230.2,73.7 232.4,75.1 233.4,77.1 231.9,77.7 230.7,75.4"/>
<polygon points="242.4,85.0 245.3,85.5 244.8,86.7 242.6,86.1"/>
<polygon points="246.3,87.6 248.4,88.5 249.2,89.3 247.2,89.0"/>
<polygon points="259.1,100.3 260.9,101.5 261.1,103.2 259.9,103.2 259.4,102.1"/>
<polygon points="260.9,104.1 262.3,105.0 261.8,106.1 261.1,105.3"/>
<polygon points="285.4,108.8 287.6,108.5 288.6,110.2 287.4,111.1 285.4,110.5"/>
<polygon points="288.6,105.3 290.8,105.3 292.5,105.0 292.5,106.7 290.3,106.7 289.1,106.7"/>
<polygon points="147.5,4.3 148.9,4.1 150.9,4.3 151.6,7.2 151.4,9.9 149.9,11.9 149.9,14.5 150.6,16.8 152.3,16.5 153.5,18.0 155.0,18.0 156.0,20.3 155.7,21.5 154.0,20.3 152.3,19.1 150.4,17.7 148.7,18.6 147.5,16.5 147.5,15.1 146.0,14.8 145.8,12.5 146.7,11.0 147.0,7.8"/>
<polygon points="146.7,18.9 148.7,19.1 149.7,21.5 148.9,22.6 147.7,21.8"/>
<polygon points="150.6,23.5 152.1,24.4 153.5,25.5 152.3,27.0 150.9,27.6 150.6,26.1"/>
<polygon points="153.1,26.4 154.5,26.7 153.8,31.0 152.1,30.7 151.8,28.4"/>
<polygon points="155.5,25.2 156.0,27.3 154.3,30.2 154.0,28.4"/>
<polygon points="155.2,28.7 157.2,28.7 156.7,30.2 155.2,29.9"/>
<polygon points="156.5,21.8 158.9,21.8 160.1,24.6 158.7,25.8 157.9,24.9 156.5,23.2"/>
<polygon points="156.5,24.6 158.2,25.2 158.9,27.8 157.7,29.0 156.5,27.0"/>
<polygon points="150.6,37.7 151.4,35.1 152.8,34.8 154.5,33.4 155.2,34.5 156.2,34.2 157.4,33.4 158.2,31.9 159.4,29.6 160.8,30.7 161.3,33.4 162.1,36.8 161.1,39.7 159.6,37.4 159.1,40.0 158.7,41.8 156.2,40.0 155.7,37.7 154.5,35.7 153.1,36.5 151.4,38.0"/>
<polygon points="139.2,33.6 141.1,31.6 142.8,29.3 144.5,27.3 145.0,24.9 144.1,25.5 142.3,27.8 140.2,30.7"/>
<polygon points="170.3,91.1 172.8,90.5 174.0,91.3 172.3,92.5 170.6,92.2"/>
</g></g>
<rect x="0" y="0" width="292" height="116" fill="none" stroke="#000" stroke-width="2"/>
<path d="M0.0,116v4 M0,0.0h-4 M73.0,116v4 M0,29.0h-4 M146.0,116v4 M0,58.0h-4 M219.0,116v4 M0,87.0h-4 M292.0,116v4 M0,116.0h-4" stroke="#000" stroke-width="1.5"/>
<text x="-26.2" y="4.1" class="tk" textLength="19.8" lengthAdjust="spacingAndGlyphs">20N</text>
<text x="-26.2" y="33.1" class="tk" textLength="19.8" lengthAdjust="spacingAndGlyphs">10N</text>
<text x="-19.6" y="62.1" class="tk" textLength="13.2" lengthAdjust="spacingAndGlyphs">EQ</text>
<text x="-26.2" y="91.1" class="tk" textLength="19.8" lengthAdjust="spacingAndGlyphs">10S</text>
<text x="-26.2" y="120.1" class="tk" textLength="19.8" lengthAdjust="spacingAndGlyphs">20S</text>
<text x="-9.9" y="129.9" class="tk" textLength="19.8" lengthAdjust="spacingAndGlyphs">60E</text>
<text x="63.1" y="129.9" class="tk" textLength="19.8" lengthAdjust="spacingAndGlyphs">90E</text>
<text x="132.8" y="129.9" class="tk" textLength="26.4" lengthAdjust="spacingAndGlyphs">120E</text>
<text x="205.8" y="129.9" class="tk" textLength="26.4" lengthAdjust="spacingAndGlyphs">150E</text>
<text x="282.1" y="129.9" class="tk" textLength="19.8" lengthAdjust="spacingAndGlyphs">180</text>
</g>
<g transform="translate(382,204)">
<clipPath id="cpd"><rect x="0" y="0" width="291" height="116"/></clipPath>
<g clip-path="url(#cpd)">
<rect x="0" y="0" width="291" height="116" fill="#FDEBE8"/>
<path d="M-3.0,-3.0 C2.6,-7.0 24.9,-4.0 30.5,-3.0 C36.1,-2.0 30.7,1.2 30.5,3.1 C30.3,5.0 30.5,6.8 29.5,8.2 C28.5,9.5 26.3,10.3 24.4,11.2 C22.6,12.0 19.7,12.5 18.3,13.3 C17.0,14.2 17.1,15.0 16.2,16.3 C15.4,17.6 14.9,20.0 13.3,20.9 C11.6,21.8 8.8,21.9 6.1,21.9 C3.4,21.9 -1.5,25.0 -3.0,20.9 C-4.5,16.8 -8.6,1.0 -3.0,-3.0 Z" fill="#E4F6FC" stroke="#4e4e4e" stroke-width="0.85"/>
<path d="M-3.0,-3.0 C1.7,-5.1 20.8,-4.0 25.4,-3.0 C30.0,-2.0 25.3,1.6 24.4,3.1 C23.6,4.6 22.2,5.1 20.3,6.1 C18.5,7.1 15.6,8.5 13.3,9.2 C10.9,9.9 8.8,10.1 6.1,10.2 C3.4,10.3 -1.5,11.9 -3.0,9.7 C-4.5,7.5 -7.7,-0.9 -3.0,-3.0 Z" fill="#B6E8F8" stroke="#4e4e4e" stroke-width="0.85"/>
<path d="M-3.0,27.0 C-0.8,17.9 6.3,27.4 10.2,27.6 C14.1,27.8 17.6,28.1 20.3,28.1 C23.0,28.1 24.9,28.2 26.4,27.6 C27.9,27.0 28.8,26.0 29.5,24.5 C30.2,23.0 29.8,20.3 30.5,18.4 C31.2,16.5 32.2,14.7 33.6,13.3 C34.9,11.9 37.1,11.4 38.7,10.2 C40.2,9.0 41.7,7.5 42.8,6.1 C43.8,4.7 44.2,3.5 44.7,2.0 C45.2,0.5 43.1,-2.2 45.7,-3.0 C48.4,-3.8 58.6,-4.2 60.8,-3.0 C63.0,-1.8 58.6,2.0 58.8,4.0 C59.0,6.0 60.0,7.9 61.8,9.0 C63.6,10.1 67.1,10.7 69.8,10.7 C72.4,10.7 75.4,9.9 77.7,9.0 C80.1,8.1 81.7,6.3 83.7,5.0 C85.7,3.7 88.4,2.3 89.7,1.0 C91.0,-0.3 88.4,-2.3 91.7,-3.0 C95.0,-3.7 106.6,-4.3 109.6,-3.0 C112.6,-1.7 110.6,3.0 109.6,5.0 C108.7,7.0 106.3,8.0 103.8,9.2 C101.4,10.4 97.0,11.5 94.7,12.3 C92.3,13.1 90.7,12.6 89.7,14.0 C88.7,15.4 89.3,18.6 88.6,21.0 C87.9,23.4 86.9,26.0 85.5,28.2 C84.1,30.4 80.9,32.4 80.4,34.3 C79.9,36.2 81.1,37.7 82.4,39.4 C83.8,41.1 86.7,42.8 88.6,44.5 C90.5,46.2 91.8,48.4 93.7,49.6 C95.5,50.9 98.0,51.4 99.7,52.0 C101.3,52.6 102.9,52.3 103.6,53.0 C104.4,53.7 103.9,54.0 104.1,56.0 C104.4,58.0 103.9,62.7 105.3,65.2 C106.8,67.8 109.2,70.0 113.0,71.3 C116.8,72.6 123.7,72.8 128.3,72.8 C132.8,72.8 139.3,72.6 140.5,71.3 C141.7,70.0 135.7,67.2 135.5,65.0 C135.4,62.8 137.9,60.4 139.5,58.0 C141.1,55.6 141.7,51.8 145.0,50.5 C148.3,49.2 155.1,50.0 159.5,50.0 C163.8,50.0 167.7,50.0 171.0,50.5 C174.3,51.0 176.7,51.8 179.4,53.0 C182.1,54.2 185.4,55.5 187.4,58.0 C189.3,60.5 190.8,64.5 191.3,68.0 C191.8,71.5 189.0,77.4 190.3,79.0 C191.7,80.6 197.0,77.2 199.5,77.4 C202.1,77.7 203.3,79.2 205.6,80.5 C207.9,81.8 211.3,85.2 213.3,85.1 C215.2,85.0 216.2,83.3 217.3,80.0 C218.3,76.7 218.0,67.9 219.3,65.2 C220.7,62.5 222.6,64.1 225.4,63.7 C228.2,63.3 233.1,62.8 236.2,62.9 C239.2,63.0 243.5,63.5 243.8,64.4 C244.0,65.3 239.2,66.6 237.7,68.3 C236.2,70.0 234.6,72.4 234.6,74.4 C234.6,76.4 235.6,79.2 237.7,80.5 C239.7,81.8 244.3,81.5 246.9,82.0 C249.4,82.5 251.7,82.6 252.9,83.6 C254.2,84.6 254.7,86.7 254.4,88.2 C254.2,89.7 250.9,91.9 251.4,92.8 C252.0,93.7 256.0,92.8 257.5,93.5 C259.0,94.2 260.5,95.4 260.5,97.3 C260.5,99.2 259.5,103.2 257.5,105.0 C255.5,106.8 251.9,107.6 248.3,108.1 C244.8,108.6 239.0,108.4 236.2,108.1 C233.4,107.8 231.8,104.7 231.5,106.5 C231.2,108.3 245.0,116.9 234.2,119.0 C223.3,121.1 178.0,121.1 166.4,119.0 C154.9,116.9 164.6,109.3 164.8,106.5 C165.1,103.7 166.4,103.2 167.9,101.9 C169.5,100.6 172.2,100.4 174.0,98.9 C175.8,97.4 177.6,94.8 178.6,92.8 C179.6,90.8 180.7,87.9 180.2,86.6 C179.7,85.3 177.6,85.2 175.6,85.1 C173.6,85.0 170.7,86.2 167.9,85.9 C165.1,85.7 162.1,84.5 158.8,83.6 C155.4,82.7 151.6,81.3 148.1,80.5 C144.5,79.7 141.2,79.2 137.4,79.0 C133.6,78.8 129.2,79.3 125.2,79.0 C121.1,78.7 116.6,78.1 113.0,77.4 C109.5,76.8 106.9,75.6 103.8,75.1 C100.8,74.6 96.7,73.5 94.7,74.4 C92.6,75.3 93.1,80.0 91.6,80.5 C90.1,81.0 87.3,77.4 85.5,77.4 C83.7,77.4 83.2,79.2 80.9,80.5 C78.6,81.8 75.1,83.9 71.8,85.1 C68.4,86.2 65.4,86.9 61.1,87.4 C56.8,87.9 50.8,88.3 45.7,88.2 C40.6,88.1 35.6,87.1 30.5,86.6 C25.4,86.1 20.8,85.9 15.2,85.1 C9.7,84.3 0.0,91.7 -3.0,82.0 C-6.0,72.3 -5.2,36.1 -3.0,27.0 Z" fill="#F9C1B8" stroke="#4e4e4e" stroke-width="0.85"/>
<path d="M-3.0,32.7 C-1.0,29.6 5.4,33.0 8.8,33.4 C12.2,33.8 14.5,34.0 17.4,34.9 C20.3,35.8 23.5,37.2 26.2,38.5 C28.9,39.8 31.1,42.2 33.5,42.9 C35.9,43.6 38.4,42.8 40.8,42.9 C43.2,43.0 45.3,43.9 47.8,43.5 C50.4,43.1 54.3,41.9 56.0,40.4 C57.7,38.9 58.3,36.5 58.0,34.3 C57.7,32.1 55.1,28.8 53.9,27.1 C52.7,25.4 51.4,25.0 50.8,24.0 C50.3,23.0 50.2,21.9 50.6,21.0 C51.0,20.1 51.9,19.0 53.1,18.4 C54.4,17.8 56.5,17.0 58.2,17.4 C59.9,17.8 61.4,19.7 63.1,21.0 C64.7,22.3 66.1,23.9 68.2,25.1 C70.2,26.3 73.8,27.5 75.3,28.2 C76.9,28.9 77.7,28.5 77.3,29.2 C77.0,29.9 74.3,31.0 73.2,32.2 C72.2,33.4 71.4,34.8 71.3,36.3 C71.1,37.8 71.4,39.7 72.3,41.4 C73.1,43.1 74.6,45.1 76.3,46.5 C78.0,47.9 80.7,48.7 82.4,49.6 C84.1,50.5 85.0,50.7 86.5,51.7 C88.0,52.7 89.9,54.2 91.6,55.7 C93.3,57.2 95.3,59.4 96.7,61.0 C98.0,62.6 100.0,64.2 99.7,65.2 C99.3,66.2 96.9,65.9 94.6,66.7 C92.2,67.5 89.3,68.8 85.5,69.8 C81.7,70.8 75.8,71.0 71.8,72.8 C67.7,74.6 65.4,79.0 61.1,80.5 C56.8,82.0 50.8,82.2 45.7,82.0 C40.6,81.8 34.3,80.3 30.5,79.0 C26.7,77.7 26.0,75.7 22.9,74.4 C19.9,73.1 14.0,72.8 12.3,71.3 C10.5,69.8 13.5,67.8 12.3,65.2 C11.0,62.7 7.1,58.2 4.6,56.0 C2.0,53.8 -1.7,55.9 -3.0,52.0 C-4.3,48.1 -4.9,35.8 -3.0,32.7 Z" fill="#F89F8F" stroke="#4e4e4e" stroke-width="0.85"/>
<path d="M41.9,33.0 C41.9,31.3 42.7,29.4 43.8,28.6 C45.0,27.8 47.3,27.6 48.8,28.0 C50.4,28.4 52.4,29.5 53.1,31.0 C53.8,32.5 53.8,35.5 53.1,37.0 C52.4,38.5 50.4,39.7 48.8,40.0 C47.3,40.3 45.0,40.2 43.8,39.0 C42.7,37.8 41.9,34.7 41.9,33.0 Z" fill="#FDEBE8" stroke="#4e4e4e" stroke-width="0.85"/>
<path d="M87.7,-3.0 C86.5,-2.0 87.2,1.7 87.7,3.0 C88.2,4.3 89.5,5.0 90.7,5.0 C91.9,5.0 94.0,4.3 94.7,3.0 C95.3,1.7 95.8,-2.0 94.7,-3.0 C93.5,-4.0 88.9,-4.0 87.7,-3.0 Z" fill="#F89F8F" stroke="#4e4e4e" stroke-width="0.85"/>
<path d="M86.7,10.0 C86.9,9.2 88.0,8.9 88.7,9.2 C89.4,9.5 90.4,11.0 90.7,12.0 C90.9,13.0 90.7,15.0 90.2,15.3 C89.7,15.6 88.3,14.9 87.7,14.0 C87.1,13.1 86.5,10.8 86.7,10.0 Z" fill="#F89F8F" stroke="#4e4e4e" stroke-width="0.85"/>
<path d="M10.2,43.0 C10.5,42.4 11.8,41.6 13.0,41.4 C14.1,41.2 16.1,41.3 16.9,41.6 C17.8,41.9 18.5,42.7 18.1,43.3 C17.8,43.9 16.1,44.9 14.9,45.1 C13.8,45.4 11.8,45.1 11.0,44.8 C10.2,44.4 9.8,43.6 10.2,43.0 Z" fill="#F89F8F" stroke="#4e4e4e" stroke-width="0.85"/>
<path d="M31.5,20.4 C32.3,18.3 33.1,16.6 34.6,15.3 C36.1,14.0 39.0,13.0 40.7,12.8 C42.4,12.6 43.9,13.0 44.7,14.3 C45.6,15.6 45.9,18.4 45.7,20.4 C45.6,22.4 44.9,25.0 43.7,26.5 C42.6,28.0 40.5,28.9 38.7,29.6 C36.8,30.3 34.0,30.9 32.6,30.6 C31.1,30.3 30.2,29.3 30.0,27.6 C29.8,25.9 30.7,22.4 31.5,20.4 Z" fill="#F89F8F" stroke="#4e4e4e" stroke-width="0.85"/>
<path d="M24.7,72.0 C25.0,69.9 27.2,65.3 29.1,63.3 C31.0,61.2 33.5,60.6 36.4,59.7 C39.3,58.9 43.9,59.3 46.5,58.2 C49.2,57.1 50.0,54.4 52.4,53.1 C54.8,51.8 58.7,50.6 61.1,50.2 C63.5,49.8 65.0,50.2 67.0,50.9 C68.9,51.6 71.3,53.4 72.8,54.6 C74.2,55.8 75.6,57.1 75.6,58.3 C75.6,59.5 74.2,60.8 72.8,61.9 C71.3,63.0 68.7,63.8 67.0,64.8 C65.3,65.8 64.1,67.4 62.6,68.0 C61.1,68.6 60.0,67.5 58.0,68.3 C56.0,69.1 52.9,71.5 50.3,72.8 C47.8,74.1 45.3,75.5 42.8,75.9 C40.2,76.3 37.6,75.1 35.1,75.1 C32.5,75.1 29.2,76.4 27.5,75.9 C25.8,75.4 24.4,74.1 24.7,72.0 Z" fill="#F37D67" stroke="#4e4e4e" stroke-width="0.85"/>
<path d="M94.7,12.3 C96.5,11.5 101.1,10.1 103.8,9.2 C106.6,8.3 108.4,7.4 111.4,6.9 C114.5,6.4 118.9,6.7 122.2,6.1 C125.5,5.5 129.6,4.6 131.3,3.1 C133.1,1.6 121.8,-2.0 132.8,-3.0 C143.8,-4.0 186.6,-3.5 197.3,-3.0 C208.1,-2.5 199.2,-0.9 197.3,0.0 C195.5,0.9 189.0,1.8 186.3,2.6 C183.6,3.5 182.7,4.0 181.2,5.1 C179.7,6.1 178.2,7.2 177.4,8.9 C176.5,10.6 177.2,13.0 176.1,15.3 C175.0,17.6 172.7,21.1 171.0,23.0 C169.3,24.9 167.4,26.4 165.9,26.8 C164.4,27.2 163.3,26.8 162.0,25.5 C160.8,24.2 159.7,21.1 158.3,19.1 C156.8,17.1 155.7,14.6 153.2,13.4 C150.6,12.2 146.2,12.0 143.0,12.1 C139.8,12.2 136.5,13.0 134.1,14.0 C131.8,15.0 130.7,16.2 129.1,17.9 C127.5,19.6 125.9,21.9 124.6,24.0 C123.3,26.1 121.5,28.5 121.4,30.6 C121.2,32.7 123.5,35.0 123.7,36.8 C123.8,38.6 123.2,40.5 122.2,41.3 C121.2,42.1 119.1,40.9 117.6,41.4 C116.1,41.9 114.8,43.6 113.0,44.5 C111.2,45.4 109.0,46.7 106.9,46.5 C104.9,46.3 102.6,44.9 100.8,43.5 C98.9,42.1 96.9,40.4 95.7,38.4 C94.5,36.4 94.2,34.1 93.7,31.2 C93.2,28.3 92.8,23.9 92.7,21.0 C92.5,18.1 92.3,15.4 92.7,14.0 C93.0,12.6 92.8,13.1 94.7,12.3 Z" fill="#E4F6FC" stroke="#4e4e4e" stroke-width="0.85"/>
<path d="M132.8,-3.0 C127.3,-1.9 133.7,2.2 135.4,3.8 C137.1,5.4 140.5,5.9 143.0,6.4 C145.5,6.9 148.6,6.6 150.7,7.0 C152.8,7.4 153.9,8.7 155.8,8.9 C157.7,9.1 160.1,8.9 162.0,8.3 C163.9,7.7 166.1,7.0 167.1,5.1 C168.2,3.2 174.1,-1.7 168.4,-3.0 C162.7,-4.3 138.3,-4.1 132.8,-3.0 Z" fill="#B6E8F8" stroke="#4e4e4e" stroke-width="0.85"/>
<path d="M114.6,18.0 C114.8,16.7 115.6,14.7 116.6,14.0 C117.6,13.3 119.7,13.1 120.6,13.8 C121.5,14.5 122.3,16.5 122.2,18.0 C122.0,19.5 120.7,22.3 119.6,23.0 C118.5,23.7 116.4,22.8 115.6,22.0 C114.8,21.2 114.4,19.3 114.6,18.0 Z" fill="#B6E8F8" stroke="#4e4e4e" stroke-width="0.85"/>
<path d="M126.5,29.3 C126.9,27.2 128.7,25.6 130.4,24.2 C132.0,22.8 134.5,21.6 136.6,21.0 C138.7,20.4 141.5,19.9 143.0,20.4 C144.5,20.9 145.6,22.7 145.6,24.2 C145.6,25.7 144.1,27.8 143.0,29.3 C141.9,30.8 140.7,31.7 139.2,33.2 C137.7,34.7 135.6,37.0 134.1,38.3 C132.7,39.6 131.4,41.0 130.4,40.8 C129.3,40.6 128.4,38.9 127.8,37.0 C127.1,35.1 126.0,31.4 126.5,29.3 Z" fill="#F9C1B8" stroke="#4e4e4e" stroke-width="0.85"/>
<path d="M183.7,28.1 C183.7,26.8 185.0,24.5 186.3,23.0 C187.5,21.5 189.6,20.4 191.3,19.1 C193.0,17.8 194.8,17.0 196.4,15.3 C198.0,13.7 200.2,12.2 201.0,9.2 C201.8,6.1 196.9,-1.0 201.0,-3.0 C205.1,-5.0 220.6,-4.5 225.4,-3.0 C230.3,-1.5 228.7,3.0 230.0,6.1 C231.3,9.1 232.8,12.5 233.1,15.3 C233.3,18.1 233.0,21.2 231.5,23.0 C230.0,24.8 225.7,25.0 223.9,26.0 C222.2,27.0 221.1,27.6 220.8,29.1 C220.6,30.6 222.9,33.7 222.4,35.2 C221.9,36.7 220.1,37.9 217.9,38.3 C215.6,38.7 211.7,38.3 208.7,37.5 C205.6,36.7 202.4,34.7 199.5,33.7 C196.6,32.7 193.6,31.8 191.3,31.3 C189.1,30.8 187.5,31.1 186.3,30.6 C185.0,30.1 183.7,29.4 183.7,28.1 Z" fill="#F9C1B8" stroke="#4e4e4e" stroke-width="0.85"/>
<path d="M173.5,42.1 C174.4,40.8 176.7,39.1 178.6,38.3 C180.5,37.4 182.8,37.0 185.0,37.0 C187.1,37.0 188.9,37.4 191.3,38.3 C193.8,39.1 195.9,41.3 199.5,42.1 C203.2,42.9 208.7,43.0 213.3,42.9 C217.9,42.8 223.2,41.8 227.0,41.3 C230.8,40.8 232.6,40.3 236.2,39.8 C239.7,39.3 244.8,39.1 248.3,38.3 C251.9,37.5 256.5,37.0 257.5,35.2 C258.5,33.4 255.2,30.2 254.4,27.6 C253.7,25.1 254.2,22.4 252.9,19.9 C251.7,17.3 247.6,14.9 246.9,12.3 C246.1,9.8 247.1,6.0 248.3,4.6 C249.6,3.2 251.4,3.9 254.4,3.8 C257.5,3.7 262.1,3.7 266.7,3.8 C271.3,3.9 277.4,4.5 281.9,4.6 C286.5,4.7 292.0,-7.0 294.0,4.6 C296.0,16.2 295.5,62.5 294.0,74.4 C292.5,86.3 288.0,75.9 285.0,75.9 C282.0,75.9 278.9,75.7 275.9,74.4 C272.8,73.1 269.5,70.3 266.7,68.3 C263.9,66.2 261.6,63.9 259.0,62.1 C256.5,60.3 255.2,58.3 251.4,57.5 C247.6,56.7 241.3,57.2 236.2,57.5 C231.1,57.8 225.9,59.0 220.8,59.1 C215.7,59.2 209.4,58.8 205.6,58.3 C201.8,57.8 200.6,56.8 198.0,56.0 C195.5,55.2 193.5,54.6 190.3,53.6 C187.2,52.6 182.2,51.3 179.4,50.0 C176.6,48.7 174.4,47.3 173.4,46.0 C172.4,44.7 172.6,43.4 173.5,42.1 Z" fill="#E4F6FC" stroke="#4e4e4e" stroke-width="0.85"/>
<path d="M262.1,30.0 C262.8,28.8 264.3,27.0 267.1,26.5 C269.9,26.0 275.6,26.8 279.0,27.0 C282.5,27.2 286.5,26.3 288.0,28.0 C289.5,29.7 289.5,35.3 288.0,37.0 C286.5,38.7 282.2,38.5 279.0,38.3 C275.9,38.1 271.7,36.7 269.1,36.0 C266.4,35.3 264.3,35.0 263.1,34.0 C261.9,33.0 261.4,31.2 262.1,30.0 Z" fill="#FDEBE8" stroke="#4e4e4e" stroke-width="0.85"/>
<path d="M265.1,50.0 C265.4,49.0 267.3,47.7 269.1,47.5 C270.9,47.3 275.0,47.9 275.9,49.0 C276.7,50.1 275.5,53.6 274.1,54.4 C272.6,55.1 268.6,54.2 267.1,53.5 C265.6,52.8 264.8,51.0 265.1,50.0 Z" fill="#FDEBE8" stroke="#4e4e4e" stroke-width="0.85"/>
<path d="M265.1,13.0 C264.8,12.0 266.8,11.0 269.1,10.5 C271.4,10.0 275.9,10.0 279.0,10.0 C282.2,10.0 286.3,9.8 288.0,10.5 C289.7,11.2 290.0,12.9 289.0,14.0 C288.0,15.1 285.0,16.4 282.0,16.8 C279.0,17.2 273.9,17.1 271.1,16.5 C268.2,15.9 265.4,14.0 265.1,13.0 Z" fill="#B6E8F8" stroke="#4e4e4e" stroke-width="0.85"/>
<path d="M230.2,49.0 C230.5,48.2 232.0,46.8 233.2,46.7 C234.4,46.6 237.4,47.6 237.7,48.5 C238.0,49.4 236.3,51.5 235.2,52.0 C234.1,52.5 232.0,52.0 231.2,51.5 C230.4,51.0 229.9,49.8 230.2,49.0 Z" fill="#B6E8F8" stroke="#4e4e4e" stroke-width="0.85"/>
<path d="M271.1,79.0 C271.3,77.8 272.6,75.2 273.6,75.0 C274.5,74.8 276.3,76.7 276.5,78.0 C276.8,79.3 275.8,82.2 275.1,83.0 C274.3,83.8 272.7,83.2 272.1,82.5 C271.4,81.8 270.8,80.2 271.1,79.0 Z" fill="#E4F6FC" stroke="#4e4e4e" stroke-width="0.85"/>
<path d="M-3.0,90.5 C0.0,85.9 10.9,90.6 15.2,91.2 C19.6,91.8 20.4,93.3 22.9,94.3 C25.5,95.3 27.2,97.3 30.5,97.3 C33.8,97.3 38.9,94.5 42.8,94.3 C46.6,94.0 49.9,95.0 53.4,95.8 C57.0,96.6 61.0,98.0 64.1,98.9 C67.1,99.8 69.7,101.7 71.8,101.2 C73.8,100.7 74.3,97.0 76.3,95.8 C78.4,94.6 81.4,94.8 83.9,94.3 C86.5,93.8 89.8,92.8 91.6,92.8 C93.4,92.8 91.6,94.3 94.7,94.3 C97.7,94.3 104.8,93.3 109.9,92.8 C115.0,92.3 120.1,91.8 125.2,91.2 C130.3,90.6 135.9,89.2 140.5,88.9 C145.1,88.7 149.4,89.1 152.7,89.7 C156.0,90.3 158.5,91.5 160.2,92.8 C162.0,94.1 163.3,95.8 163.3,97.3 C163.3,98.8 162.0,100.4 160.2,101.9 C158.5,103.4 154.5,103.7 152.7,106.5 C150.9,109.3 175.5,116.9 149.6,119.0 C123.6,121.1 22.4,123.8 -3.0,119.0 C-28.4,114.2 -6.0,95.1 -3.0,90.5 Z" fill="#E4F6FC" stroke="#4e4e4e" stroke-width="0.85"/>
<path d="M-3.0,100.4 C-1.7,97.6 2.8,100.9 4.6,101.9 C6.4,102.9 6.4,103.7 7.7,106.5 C9.0,109.3 14.0,116.9 12.3,119.0 C10.5,121.1 -0.4,122.1 -3.0,119.0 C-5.5,115.9 -4.3,103.2 -3.0,100.4 Z" fill="#B6E8F8" stroke="#4e4e4e" stroke-width="0.85"/>
<path d="M30.5,119.0 C27.4,117.2 32.8,110.4 35.1,108.1 C37.4,105.8 42.0,105.3 44.2,105.0 C46.5,104.7 47.3,104.2 48.8,106.5 C50.4,108.8 56.5,116.9 53.4,119.0 C50.4,121.1 33.6,120.8 30.5,119.0 Z" fill="#B6E8F8" stroke="#4e4e4e" stroke-width="0.85"/>
<path d="M73.2,119.0 C63.8,117.2 73.2,110.4 74.7,108.1 C76.3,105.8 79.6,105.8 82.4,105.0 C85.2,104.2 88.7,104.0 91.6,103.5 C94.5,103.0 97.6,102.4 99.7,101.9 C101.7,101.4 102.1,101.7 103.8,100.4 C105.6,99.1 107.6,95.6 109.9,94.3 C112.2,93.0 115.1,92.5 117.6,92.8 C120.1,93.0 122.4,95.0 125.2,95.8 C128.0,96.5 131.0,97.2 134.3,97.3 C137.6,97.4 142.6,96.1 145.0,96.6 C147.4,97.1 148.9,99.2 148.9,100.4 C148.9,101.6 146.9,103.0 145.0,103.5 C143.1,104.0 139.2,103.0 137.4,103.5 C135.7,104.0 135.4,103.9 134.3,106.5 C133.3,109.1 141.5,116.9 131.3,119.0 C121.2,121.1 82.7,120.8 73.2,119.0 Z" fill="#B6E8F8" stroke="#4e4e4e" stroke-width="0.85"/>
<path d="M199.5,92.8 C201.6,91.0 206.1,92.0 208.7,91.2 C211.2,90.4 212.7,88.2 214.8,88.2 C216.8,88.2 218.8,89.4 220.8,91.2 C222.9,93.0 225.2,96.4 227.0,98.9 C228.8,101.5 230.8,103.2 231.5,106.5 C232.3,109.8 237.1,116.9 231.5,119.0 C225.9,121.1 203.9,121.8 198.0,119.0 C192.2,116.2 196.2,106.4 196.4,102.0 C196.7,97.6 197.5,94.6 199.5,92.8 Z" fill="#F89F8F" stroke="#4e4e4e" stroke-width="0.85"/>
<path d="M213.3,100.4 C214.0,98.9 215.1,98.6 216.3,98.9 C217.4,99.2 219.1,100.5 220.1,102.0 C221.2,103.5 222.1,105.3 222.4,108.1 C222.8,110.9 224.0,117.2 222.4,119.0 C220.9,120.8 215.1,120.8 213.3,119.0 C211.5,117.2 211.7,111.2 211.7,108.1 C211.7,105.0 212.5,101.9 213.3,100.4 Z" fill="#F37D67" stroke="#4e4e4e" stroke-width="0.85"/>
<path d="M243.8,101.0 C243.8,100.2 246.4,98.9 247.6,98.9 C248.9,98.9 251.4,100.2 251.4,101.0 C251.4,101.8 248.9,103.5 247.6,103.5 C246.4,103.5 243.8,101.8 243.8,101.0 Z" fill="#F9C1B8" stroke="#4e4e4e" stroke-width="0.85"/>
<path d="M72.8,0V116 M145.5,0V116 M218.2,0V116" stroke="#7a7a7a" stroke-width="1" stroke-dasharray="1.2 5.3" fill="none"/>
<path d="M0,29.0H291 M0,58.0H291 M0,87.0H291" stroke="#b0b0b0" stroke-width="0.9" stroke-dasharray="1.2 5.3" fill="none"/>
<g fill="none" stroke="#111" stroke-width="1.45" stroke-linejoin="round">
<polyline points="31.0,0.0 31.3,2.9 31.5,5.8 32.3,8.7 32.7,11.6 33.5,13.6 34.2,15.4 35.2,18.0 35.9,20.9 36.9,23.2 37.8,24.9 38.6,26.7 39.3,29.0 40.0,31.3 41.0,33.1 42.4,34.5 43.9,33.1 44.1,31.3 46.1,31.0 46.8,28.1 48.3,28.1 48.0,24.6 49.0,20.3 49.0,17.4 48.7,14.5 49.2,12.2 50.9,12.2 51.9,10.4 54.1,9.6 54.1,8.7 56.3,7.0 58.2,4.9 60.1,2.3 61.8,0.6 63.8,0.0 64.3,-0.9"/>
<polyline points="79.5,-0.9 81.0,1.4 82.2,3.2 83.4,4.9 83.7,7.2 83.2,9.9 82.9,11.6 84.4,11.9 85.6,12.5 86.8,11.6 88.0,10.2 89.5,8.4 90.5,9.3 91.2,11.0 91.4,13.6 92.4,16.5 92.9,19.7 93.6,22.6 93.6,26.1 93.6,29.0 92.9,31.9 92.9,34.2 93.8,34.8 95.3,36.8 96.3,38.9 97.7,41.5 98.0,44.1 98.7,46.4 99.7,48.7 100.4,50.2 102.3,51.6 104.3,53.4 105.5,54.2 107.2,53.9 106.9,52.2 105.7,49.9 105.2,47.0 105.2,45.0 104.5,42.6 102.8,40.3 101.1,38.9 99.4,38.0 98.0,36.8 97.2,34.8 96.8,32.2 95.1,30.2 95.1,28.1 95.8,25.8 96.3,23.5 96.8,21.2 97.0,19.1 98.2,18.9 99.2,19.4 99.2,21.2 100.9,21.5 102.1,22.6 103.3,24.4 104.3,25.8 105.5,27.3 107.7,27.8 108.6,29.3 108.6,33.1 109.6,32.8 110.8,31.0 112.3,30.2 113.2,28.4 114.2,27.8 116.2,27.0 117.1,26.4 118.6,24.9 119.3,23.5 119.3,21.8 119.6,19.4 119.3,17.7 118.6,15.1 117.9,13.3 116.9,11.6 115.4,10.2 114.2,8.7 113.0,7.2 112.0,5.8 111.1,4.1 110.8,2.6 111.3,1.2 112.5,0.0 113.0,-0.9"/>
<polyline points="120.3,-0.9 121.0,-0.7 122.0,-0.9"/>
<polyline points="142.6,116.9 145.3,115.7 147.9,114.5 149.6,112.2 150.8,110.2 151.3,107.9 152.8,105.6 154.2,107.3 155.0,105.3 156.4,104.4 157.1,102.4 158.6,100.3 160.3,98.9 162.0,98.0 163.7,98.6 165.1,100.9 165.9,102.1 167.3,101.2 168.8,100.9 168.5,98.9 170.0,96.6 170.5,94.8 171.7,94.0 173.4,93.4 175.3,93.1 176.1,91.3 178.2,92.2 180.2,92.8 181.9,93.4 184.1,92.5 185.8,92.8 186.5,93.7 185.5,95.7 184.1,96.6 184.1,99.2 182.8,100.9 184.3,102.7 186.7,104.1 188.4,105.6 191.1,107.3 193.0,108.8 195.2,108.8 196.2,107.3 197.4,104.4 197.9,101.5 197.9,98.6 197.6,95.7 198.1,93.4 198.6,91.6 199.3,89.6 200.1,89.0 200.8,90.8 201.8,92.8 202.5,95.1 202.7,97.7 204.2,99.2 205.2,99.5 206.9,101.2 207.1,104.4 208.3,107.0 208.8,109.9 209.3,112.8 211.0,114.3 212.9,115.4 214.6,116.9"/>
<polyline points="252.0,116.9 252.4,116.3 253.4,116.9"/>
<polygon points="48.3,29.6 49.2,30.2 50.7,32.2 51.4,33.4 51.9,35.4 53.1,37.1 52.9,38.9 51.7,40.0 50.0,40.9 48.7,40.3 48.3,38.3 48.0,36.0 47.8,34.2 48.3,32.2"/>
<polygon points="117.9,2.6 118.1,4.3 120.0,5.2 121.2,4.6 122.5,3.5 123.7,1.2 122.9,-0.3 121.2,-0.3 120.0,0.3 118.6,1.2"/>
<polygon points="85.6,41.8 87.1,42.0 88.5,42.9 90.9,42.9 92.9,45.5 93.8,47.0 95.8,48.7 97.2,50.5 98.5,51.9 100.2,53.1 101.8,54.2 103.3,55.7 104.5,56.8 105.5,58.9 106.2,60.9 107.7,62.6 108.2,64.7 109.4,65.0 110.8,66.4 111.5,67.6 111.3,69.6 111.1,71.3 111.3,74.8 109.6,74.8 108.2,75.1 106.7,72.5 105.2,71.3 102.6,69.3 100.6,66.7 99.2,64.4 98.0,60.9 97.0,59.2 95.5,57.1 94.6,54.5 93.8,52.8 92.6,50.8 91.2,49.6 90.2,47.6 88.8,45.8 87.3,44.1 86.1,42.9"/>
<polygon points="109.4,62.6 111.3,62.4 112.3,64.4 113.5,66.4 112.3,67.0 111.1,65.5 109.6,64.1"/>
<polygon points="115.4,65.5 116.9,65.5 117.1,67.0 115.7,67.3"/>
<polygon points="109.6,77.7 111.3,75.4 113.5,75.7 115.4,76.0 117.1,76.3 117.9,77.4 119.8,78.0 122.2,78.0 123.4,76.6 124.9,77.4 127.6,78.0 128.0,79.5 129.7,80.3 131.9,80.6 132.4,81.8 132.2,83.2 130.0,82.1 127.8,82.4 125.1,82.1 122.0,81.5 119.8,80.3 116.9,80.6 114.9,79.8 112.8,79.5 111.1,78.0"/>
<polygon points="127.8,78.0 130.7,78.0 131.2,78.6 128.0,78.9"/>
<polygon points="132.2,81.5 133.9,81.5 135.1,82.4 133.9,83.5 132.4,82.4"/>
<polygon points="135.8,82.4 137.0,82.1 137.5,83.5 136.0,83.8"/>
<polygon points="137.7,82.9 139.4,82.4 140.7,81.5 142.3,81.8 143.1,82.7 142.1,83.2 140.2,84.1 138.2,84.4"/>
<polygon points="145.0,82.7 146.7,82.1 148.9,82.9 151.3,82.4 152.8,82.1 152.3,83.2 149.9,83.8 147.2,83.5 145.3,83.5"/>
<polygon points="143.1,85.3 145.3,85.0 147.4,86.7 146.0,87.9 143.6,86.4"/>
<polygon points="154.0,87.9 156.2,85.5 157.9,84.1 160.1,82.7 163.2,82.4 162.0,83.5 159.8,85.0 157.4,86.7 155.2,87.9"/>
<polygon points="118.8,53.4 120.3,52.2 122.0,53.1 123.7,53.4 124.4,51.3 125.9,49.6 128.5,48.7 130.7,45.8 131.9,44.7 133.4,43.5 134.3,42.6 135.8,40.6 137.5,38.0 138.7,38.0 139.9,39.4 140.9,40.9 142.8,42.0 143.8,43.2 142.1,44.4 140.9,45.5 139.9,47.6 139.4,49.9 140.4,52.8 142.8,54.8 143.1,55.4 140.9,56.5 139.4,58.0 139.2,60.0 138.0,61.8 137.0,63.8 136.5,66.1 135.8,68.4 133.4,69.6 132.2,68.2 130.0,67.3 127.6,67.9 125.4,66.7 123.7,66.7 121.7,66.4 121.2,63.2 119.8,60.6 118.8,58.0 118.8,55.4"/>
<polygon points="158.1,53.4 156.7,54.8 155.2,55.4 153.5,55.4 151.6,55.1 149.1,54.8 147.7,54.2 146.7,55.7 145.7,56.5 145.0,58.0 144.8,59.7 145.0,60.6 144.0,62.4 143.1,65.8 142.6,66.7 144.0,68.2 144.3,71.0 144.0,73.1 144.5,74.2 146.5,74.2 146.2,71.6 146.5,68.2 147.7,65.5 148.9,67.3 148.7,71.0 150.1,72.2 152.3,73.7 153.0,71.9 151.8,69.6 151.1,67.6 150.1,65.8 148.9,63.5 150.3,62.4 152.3,60.9 153.7,60.6 151.8,59.7 149.4,60.6 147.9,61.5 147.0,61.8 146.0,60.6 145.7,59.2 146.5,56.8 147.9,56.8 150.3,56.5 152.8,56.8 155.2,56.8 156.4,56.5 157.6,55.1"/>
<polygon points="163.7,51.6 164.9,53.6 164.7,55.1 166.6,53.6 165.4,56.5 166.8,57.4 165.6,59.5 164.9,60.3 163.9,58.9 164.4,55.7"/>
<polygon points="165.4,66.4 168.5,66.1 171.7,67.6 171.0,68.4 168.1,67.9 165.6,68.2"/>
<polygon points="160.1,67.3 162.0,66.7 163.0,68.2 161.5,69.0 160.3,68.4"/>
<polygon points="172.2,60.9 174.1,60.0 175.8,59.2 177.8,60.0 179.7,60.6 179.9,62.4 179.7,64.7 180.9,65.8 182.6,67.6 183.6,66.4 185.0,64.4 187.2,62.6 189.2,62.9 191.6,64.1 194.0,65.0 195.7,65.5 197.6,65.8 200.1,67.3 202.5,68.2 204.9,69.3 206.9,70.8 208.1,73.1 209.8,74.8 212.2,75.7 213.2,77.1 212.2,78.3 211.7,80.3 213.9,81.5 214.9,84.1 216.6,85.5 218.0,87.0 219.7,88.2 220.2,88.7 218.2,88.7 215.8,87.6 213.4,87.3 211.2,85.3 210.0,83.5 208.6,81.5 206.4,80.6 204.4,80.0 203.0,81.8 201.8,84.1 200.3,85.0 197.6,84.7 196.4,84.4 194.7,82.4 192.8,81.5 190.8,82.1 189.4,82.1 188.4,80.0 190.4,78.3 189.4,76.0 188.2,73.4 186.2,71.9 183.3,70.8 181.1,69.9 179.0,69.3 177.8,69.9 176.5,69.3 176.1,67.3 174.6,66.1 175.3,64.7 177.5,65.0 178.7,64.4 175.1,64.1 173.4,62.6 172.2,61.8"/>
<polygon points="214.1,74.2 215.8,74.0 218.7,74.0 220.4,72.8 221.9,72.2 223.1,70.5 224.1,71.0 222.6,73.4 221.4,75.1 219.2,76.3 217.0,76.0 214.6,75.4"/>
<polygon points="220.2,65.5 223.1,67.6 225.3,70.2 226.0,71.6 225.0,71.3 223.1,69.0 220.7,66.7"/>
<polygon points="210.0,63.7 211.9,63.7 211.9,64.2 210.0,64.2"/>
<polygon points="229.4,73.7 231.6,75.1 232.6,77.1 231.1,77.7 229.9,75.4"/>
<polygon points="241.5,85.0 244.4,85.5 244.0,86.7 241.8,86.1"/>
<polygon points="245.4,87.6 247.6,88.5 248.3,89.3 246.4,89.0"/>
<polygon points="258.3,100.3 260.0,101.5 260.2,103.2 259.0,103.2 258.5,102.1"/>
<polygon points="260.0,104.1 261.4,105.0 260.9,106.1 260.2,105.3"/>
<polygon points="284.5,108.8 286.6,108.5 287.6,110.2 286.4,111.1 284.5,110.5"/>
<polygon points="287.6,105.3 289.8,105.3 291.5,105.0 291.5,106.7 289.3,106.7 288.1,106.7"/>
<polygon points="147.0,4.3 148.4,4.1 150.3,4.3 151.1,7.2 150.8,9.9 149.4,11.9 149.4,14.5 150.1,16.8 151.8,16.5 153.0,18.0 154.5,18.0 155.4,20.3 155.2,21.5 153.5,20.3 151.8,19.1 149.9,17.7 148.2,18.6 147.0,16.5 147.0,15.1 145.5,14.8 145.3,12.5 146.2,11.0 146.5,7.8"/>
<polygon points="146.2,18.9 148.2,19.1 149.1,21.5 148.4,22.6 147.2,21.8"/>
<polygon points="150.1,23.5 151.6,24.4 153.0,25.5 151.8,27.0 150.3,27.6 150.1,26.1"/>
<polygon points="152.5,26.4 154.0,26.7 153.3,31.0 151.6,30.7 151.3,28.4"/>
<polygon points="155.0,25.2 155.4,27.3 153.7,30.2 153.5,28.4"/>
<polygon points="154.7,28.7 156.7,28.7 156.2,30.2 154.7,29.9"/>
<polygon points="155.9,21.8 158.4,21.8 159.6,24.6 158.1,25.8 157.4,24.9 155.9,23.2"/>
<polygon points="155.9,24.6 157.6,25.2 158.4,27.8 157.1,29.0 155.9,27.0"/>
<polygon points="150.1,37.7 150.8,35.1 152.3,34.8 154.0,33.4 154.7,34.5 155.7,34.2 156.9,33.4 157.6,31.9 158.8,29.6 160.3,30.7 160.8,33.4 161.5,36.8 160.5,39.7 159.1,37.4 158.6,40.0 158.1,41.8 155.7,40.0 155.2,37.7 154.0,35.7 152.5,36.5 150.8,38.0"/>
<polygon points="138.7,33.6 140.7,31.6 142.3,29.3 144.0,27.3 144.5,24.9 143.6,25.5 141.9,27.8 139.7,30.7"/>
<polygon points="169.8,91.1 172.2,90.5 173.4,91.3 171.7,92.5 170.0,92.2"/>
</g></g>
<rect x="0" y="0" width="291" height="116" fill="none" stroke="#000" stroke-width="2"/>
<path d="M0.0,116v4 M0,0.0h-4 M72.8,116v4 M0,29.0h-4 M145.5,116v4 M0,58.0h-4 M218.2,116v4 M0,87.0h-4 M291.0,116v4 M0,116.0h-4" stroke="#000" stroke-width="1.5"/>
<text x="-26.2" y="4.1" class="tk" textLength="19.8" lengthAdjust="spacingAndGlyphs">20N</text>
<text x="-26.2" y="33.1" class="tk" textLength="19.8" lengthAdjust="spacingAndGlyphs">10N</text>
<text x="-19.6" y="62.1" class="tk" textLength="13.2" lengthAdjust="spacingAndGlyphs">EQ</text>
<text x="-26.2" y="91.1" class="tk" textLength="19.8" lengthAdjust="spacingAndGlyphs">10S</text>
<text x="-26.2" y="120.1" class="tk" textLength="19.8" lengthAdjust="spacingAndGlyphs">20S</text>
<text x="-9.9" y="129.9" class="tk" textLength="19.8" lengthAdjust="spacingAndGlyphs">60E</text>
<text x="62.9" y="129.9" class="tk" textLength="19.8" lengthAdjust="spacingAndGlyphs">90E</text>
<text x="132.3" y="129.9" class="tk" textLength="26.4" lengthAdjust="spacingAndGlyphs">120E</text>
<text x="205.1" y="129.9" class="tk" textLength="26.4" lengthAdjust="spacingAndGlyphs">150E</text>
<text x="281.1" y="129.9" class="tk" textLength="19.8" lengthAdjust="spacingAndGlyphs">180</text>
</g>
<text x="39.8" y="16.9" class="tl">a</text>
<text x="61.0" y="18.6" class="tt" textLength="31.4" lengthAdjust="spacingAndGlyphs">OBS</text>
<text x="396.0" y="19.7" class="tl">b</text>
<text x="416.8" y="19.7" class="tt" textLength="60.1" lengthAdjust="spacingAndGlyphs">PC-GCM</text>
<text x="44.3" y="194.2" class="tl">c</text>
<text x="63.7" y="193.9" class="tt" textLength="66.8" lengthAdjust="spacingAndGlyphs">CM-GCM</text>
<text x="395.9" y="194.2" class="tl">d</text>
<text x="417.8" y="193.9" class="tt" textLength="64.7" lengthAdjust="spacingAndGlyphs">MS-GCM</text>
<polygon points="157,373.5 196.0,369.5 196.0,377.5" fill="url(#stipb)" stroke="#000" stroke-width="1"/>
<rect x="196.0" y="369.5" width="38.9" height="8.0" fill="#44C2F2" stroke="#000" stroke-width="1"/>
<rect x="234.9" y="369.5" width="38.5" height="8.0" fill="#8AD7F5" stroke="#000" stroke-width="1"/>
<rect x="273.4" y="369.5" width="38.9" height="8.0" fill="#B6E8F8" stroke="#000" stroke-width="1"/>
<rect x="312.3" y="369.5" width="38.5" height="8.0" fill="#E4F6FC" stroke="#000" stroke-width="1"/>
<rect x="350.8" y="369.5" width="38.3" height="8.0" fill="#FDEBE8" stroke="#000" stroke-width="1"/>
<rect x="389.1" y="369.5" width="38.5" height="8.0" fill="#F9C1B8" stroke="#000" stroke-width="1"/>
<rect x="427.6" y="369.5" width="38.3" height="8.0" fill="#F89F8F" stroke="#000" stroke-width="1"/>
<rect x="465.9" y="369.5" width="38.9" height="8.0" fill="#F37D67" stroke="#000" stroke-width="1"/>
<polygon points="504.8,369.5 543.6,373.5 504.8,377.5" fill="url(#stip)" stroke="#000" stroke-width="1"/>
<text x="183.4" y="387.3" class="cb" textLength="26.5" lengthAdjust="spacingAndGlyphs">&#8722;0.8</text>
<text x="222.3" y="387.3" class="cb" textLength="26.5" lengthAdjust="spacingAndGlyphs">&#8722;0.6</text>
<text x="260.8" y="387.3" class="cb" textLength="26.5" lengthAdjust="spacingAndGlyphs">&#8722;0.4</text>
<text x="299.8" y="387.3" class="cb" textLength="26.5" lengthAdjust="spacingAndGlyphs">&#8722;0.2</text>
<text x="347.8" y="387.3" class="cb" textLength="6.0" lengthAdjust="spacingAndGlyphs">0</text>
<text x="380.7" y="387.3" class="cb" textLength="16.8" lengthAdjust="spacingAndGlyphs">0.2</text>
<text x="419.2" y="387.3" class="cb" textLength="16.8" lengthAdjust="spacingAndGlyphs">0.4</text>
<text x="457.5" y="387.3" class="cb" textLength="16.8" lengthAdjust="spacingAndGlyphs">0.6</text>
<text x="496.4" y="387.3" class="cb" textLength="16.8" lengthAdjust="spacingAndGlyphs">0.8</text>
<text x="414.0" y="363.4" class="unit" textLength="25.6" lengthAdjust="spacingAndGlyphs">Unit</text>
<text x="446.2" y="363.4" class="unit" textLength="3.2" lengthAdjust="spacingAndGlyphs">:</text>
<text x="457.2" y="363.4" class="unit" textLength="22.8" lengthAdjust="spacingAndGlyphs">[mg</text>
<text x="487.6" y="363.4" class="unit" textLength="15.2" lengthAdjust="spacingAndGlyphs">kg</text>
<text x="503.0" y="359.6" class="unit" font-size="6.5" textLength="6.5" lengthAdjust="spacingAndGlyphs">-1</text>
<text x="510.0" y="363.6" class="unit" textLength="4.6" lengthAdjust="spacingAndGlyphs">]</text>
</svg></body></html>
